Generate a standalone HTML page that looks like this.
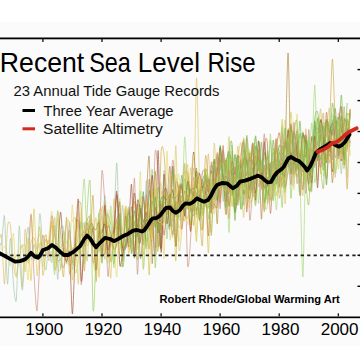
<!DOCTYPE html>
<html><head><meta charset="utf-8"><style>
html,body{margin:0;padding:0;background:#fff;width:360px;height:360px;overflow:hidden}
svg{display:block}
text{font-family:"Liberation Sans",sans-serif}
</style></head><body>
<svg width="360" height="360" viewBox="0 0 360 360">
<defs><filter id="b" x="-5%" y="-5%" width="110%" height="110%"><feGaussianBlur stdDeviation="0.6"/></filter></defs>
<rect width="360" height="360" fill="#fff"/><rect x="0" y="22" width="360" height="323.5" fill="#fbfbfb"/>
<g fill="none" stroke-width="0.8" stroke-linejoin="round" stroke-opacity="0.85" filter="url(#b)">
<path d="M-45.7,258.0C-45.4,257.1 -43.5,252.9 -42.8,250.6C-42.0,248.3 -40.6,239.2 -39.8,239.4C-39.1,239.6 -37.6,250.1 -36.9,252.2C-36.1,254.2 -34.6,253.7 -33.9,255.7C-33.2,257.6 -31.7,271.9 -31.0,267.9C-30.2,263.9 -28.7,224.4 -28.0,223.7C-27.3,222.9 -25.8,260.1 -25.0,262.1C-24.3,264.0 -22.8,238.3 -22.1,239.2C-21.3,240.2 -19.9,269.7 -19.1,269.9C-18.4,270.0 -16.9,239.8 -16.2,240.3C-15.4,240.9 -14.0,275.4 -13.2,274.2C-12.5,273.1 -11.0,232.9 -10.3,231.0C-9.5,229.1 -8.1,257.5 -7.3,258.9C-6.6,260.3 -5.1,244.0 -4.4,242.1C-3.6,240.2 -2.1,242.6 -1.4,243.6C-0.7,244.5 0.8,249.0 1.5,249.4C2.3,249.7 3.8,245.7 4.5,246.3C5.2,246.8 6.7,251.2 7.5,253.5C8.2,255.9 9.7,267.7 10.4,265.1C11.1,262.6 12.6,231.8 13.4,233.2C14.1,234.6 15.6,274.1 16.3,276.0C17.1,277.9 18.5,252.3 19.3,248.6C20.0,245.0 21.5,247.0 22.2,246.7C23.0,246.4 24.4,242.1 25.2,246.2C25.9,250.3 27.4,283.3 28.1,279.4C28.9,275.6 30.3,217.8 31.1,215.4C31.8,213.0 33.3,257.1 34.0,260.5C34.8,263.8 36.3,245.4 37.0,242.2C37.7,239.1 39.2,232.1 39.9,235.1C40.7,238.2 42.2,265.1 42.9,266.7C43.6,268.3 45.1,251.5 45.9,247.8C46.6,244.1 48.1,241.7 48.8,237.2C49.5,232.6 51.0,208.2 51.8,211.6C52.5,214.9 54.0,262.8 54.7,263.7C55.5,264.5 56.9,219.8 57.7,218.4C58.4,216.9 59.9,250.4 60.6,251.9C61.4,253.5 62.8,229.7 63.6,230.7C64.3,231.8 65.8,257.2 66.5,260.6C67.3,263.9 68.7,264.3 69.5,257.3C70.2,250.3 71.7,203.5 72.4,204.6C73.2,205.8 74.7,265.5 75.4,266.5C76.1,267.5 77.6,214.3 78.3,212.7C79.1,211.1 80.6,251.5 81.3,253.7C82.0,255.9 83.5,231.6 84.3,230.3C85.0,228.9 86.5,242.9 87.2,243.0C87.9,243.0 89.4,232.8 90.2,230.6C90.9,228.4 92.4,219.7 93.1,225.3C93.9,231.0 95.3,275.6 96.1,275.5C96.8,275.4 98.3,229.8 99.0,224.8C99.8,219.7 101.2,232.9 102.0,235.3C102.7,237.8 104.2,247.3 104.9,244.2C105.7,241.1 107.1,214.0 107.9,210.6C108.6,207.2 110.1,213.9 110.8,217.1C111.6,220.3 113.1,228.8 113.8,236.3C114.5,243.7 116.0,281.4 116.8,276.7C117.5,272.0 119.0,202.7 119.7,198.7C120.4,194.6 121.9,238.6 122.7,244.2C123.4,249.9 124.9,244.7 125.6,244.0C126.4,243.3 127.8,240.7 128.6,238.6C129.3,236.5 130.8,230.2 131.5,227.2C132.3,224.3 133.7,213.0 134.5,215.2C135.2,217.4 136.7,250.1 137.4,244.7C138.2,239.2 139.6,168.6 140.4,171.6C141.1,174.6 142.6,264.3 143.3,268.4C144.1,272.5 145.6,207.6 146.3,204.4C147.0,201.3 148.5,239.4 149.2,243.3C150.0,247.2 151.5,242.6 152.2,235.8C152.9,229.1 154.4,190.6 155.2,189.5C155.9,188.5 157.4,228.2 158.1,227.3C158.8,226.5 160.3,178.9 161.1,182.8C161.8,186.7 163.3,262.5 164.0,258.6C164.8,254.6 166.2,153.4 167.0,151.1C167.7,148.7 169.2,233.0 169.9,239.6C170.7,246.2 172.1,209.0 172.9,203.5C173.6,198.1 175.1,199.7 175.8,196.0C176.6,192.3 178.0,170.9 178.8,174.1C179.5,177.4 181.0,219.3 181.7,221.9C182.5,224.5 184.0,198.3 184.7,195.0C185.4,191.7 186.9,194.7 187.6,195.5C188.4,196.4 189.9,202.6 190.6,201.7C191.3,200.8 192.8,190.8 193.6,188.2C194.3,185.7 195.8,180.4 196.5,181.1C197.2,181.8 198.7,193.4 199.5,193.7C200.2,194.0 201.7,183.5 202.4,183.3C203.2,183.2 204.6,190.6 205.4,192.3C206.1,194.0 207.6,196.6 208.3,197.1C209.1,197.5 210.5,197.0 211.3,196.0C212.0,195.0 213.5,194.4 214.2,189.2C215.0,184.0 216.4,154.0 217.2,154.0C217.9,154.0 219.4,187.8 220.1,189.2C220.9,190.6 222.4,167.0 223.1,165.2C223.8,163.4 225.3,171.0 226.0,174.7C226.8,178.4 228.3,195.6 229.0,194.9C229.7,194.2 231.2,168.6 232.0,169.0C232.7,169.5 234.2,196.6 234.9,198.5C235.6,200.4 237.1,184.4 237.9,184.2C238.6,184.0 240.1,202.9 240.8,197.1C241.6,191.2 243.0,135.9 243.8,137.3C244.5,138.7 246.0,204.2 246.7,208.4C247.5,212.7 248.9,175.3 249.7,171.4C250.4,167.5 251.9,180.4 252.6,177.4C253.4,174.4 254.8,147.2 255.6,147.4C256.3,147.6 257.8,174.7 258.5,178.9C259.3,183.0 260.8,182.5 261.5,180.7C262.2,178.9 263.7,164.1 264.4,164.4C265.2,164.7 266.7,182.2 267.4,183.2C268.1,184.3 269.6,171.1 270.4,172.8C271.1,174.6 272.6,198.2 273.3,196.9C274.1,195.7 275.5,169.3 276.3,163.0C277.0,156.8 278.5,148.9 279.2,146.8C280.0,144.6 281.4,149.3 282.2,145.9C282.9,142.6 284.4,117.3 285.1,120.1C285.9,123.0 287.3,163.6 288.1,168.9C288.8,174.2 290.3,162.3 291.0,162.5C291.8,162.6 293.3,170.5 294.0,170.3C294.7,170.0 296.2,164.0 296.9,160.3C297.7,156.7 299.2,141.7 299.9,141.2C300.6,140.8 302.1,151.8 302.9,156.7C303.6,161.6 305.1,178.4 305.8,180.6C306.5,182.8 308.0,179.7 308.8,174.4C309.5,169.1 311.0,139.7 311.7,138.1C312.5,136.6 313.9,162.2 314.7,161.8C315.4,161.5 316.9,137.5 317.6,135.4C318.4,133.3 319.8,142.7 320.6,145.2C321.3,147.7 322.8,157.0 323.5,155.4C324.3,153.8 325.7,136.5 326.5,132.1C327.2,127.6 328.7,116.2 329.4,119.7C330.2,123.2 331.7,159.1 332.4,160.0C333.1,160.8 334.6,126.8 335.3,126.4C336.1,126.1 337.6,158.3 338.3,157.3C339.0,156.2 340.5,116.7 341.3,117.7C342.0,118.7 343.5,162.5 344.2,165.2C344.9,167.9 346.4,145.9 347.2,139.1C347.9,132.3 349.7,114.5 350.1,111.0" stroke="#e8d872"/>
<path d="M-22.1,238.8C-21.7,239.2 -19.9,241.8 -19.1,241.7C-18.4,241.6 -16.9,235.1 -16.2,238.1C-15.4,241.1 -14.0,263.3 -13.2,265.8C-12.5,268.3 -11.0,261.8 -10.3,258.0C-9.5,254.1 -8.1,236.6 -7.3,235.1C-6.6,233.7 -5.1,245.6 -4.4,246.6C-3.6,247.6 -2.1,244.5 -1.4,243.1C-0.7,241.7 0.8,230.5 1.5,235.7C2.3,240.8 3.8,285.3 4.5,284.1C5.2,283.0 6.7,234.0 7.5,226.7C8.2,219.4 9.7,221.1 10.4,225.7C11.1,230.4 12.6,257.1 13.4,263.6C14.1,270.0 15.6,277.6 16.3,277.1C17.1,276.6 18.5,258.3 19.3,259.5C20.0,260.8 21.5,290.8 22.2,287.0C23.0,283.2 24.4,232.3 25.2,229.4C25.9,226.4 27.4,261.8 28.1,263.4C28.9,265.0 30.3,245.2 31.1,242.1C31.8,238.9 33.3,237.2 34.0,238.1C34.8,239.1 36.3,249.0 37.0,249.6C37.7,250.2 39.2,243.7 39.9,243.3C40.7,242.9 42.2,247.5 42.9,246.5C43.6,245.4 45.1,233.2 45.9,234.9C46.6,236.7 48.1,258.5 48.8,260.6C49.5,262.6 51.0,252.1 51.8,251.5C52.5,250.9 54.0,260.8 54.7,255.7C55.5,250.6 56.9,213.7 57.7,210.9C58.4,208.1 59.9,229.0 60.6,233.4C61.4,237.7 62.8,247.3 63.6,245.9C64.3,244.4 65.8,224.7 66.5,221.9C67.3,219.2 68.7,218.9 69.5,224.1C70.2,229.3 71.7,259.6 72.4,263.8C73.2,268.0 74.7,261.4 75.4,257.7C76.1,254.1 77.6,237.4 78.3,234.6C79.1,231.9 80.6,235.9 81.3,235.6C82.0,235.3 83.5,229.1 84.3,232.3C85.0,235.5 86.5,263.2 87.2,261.1C87.9,258.9 89.4,218.8 90.2,215.0C90.9,211.2 92.4,224.0 93.1,230.8C93.9,237.5 95.3,271.0 96.1,268.9C96.8,266.9 98.3,221.3 99.0,214.2C99.8,207.1 101.2,206.7 102.0,212.3C102.7,218.0 104.2,259.3 104.9,259.4C105.7,259.5 107.1,212.8 107.9,213.1C108.6,213.5 110.1,259.0 110.8,262.0C111.6,265.0 113.1,242.4 113.8,237.3C114.5,232.3 116.0,222.4 116.8,221.5C117.5,220.5 119.0,226.7 119.7,229.8C120.4,232.9 121.9,249.0 122.7,246.6C123.4,244.2 124.9,210.4 125.6,210.5C126.4,210.6 127.8,243.4 128.6,247.5C129.3,251.6 130.8,246.2 131.5,243.2C132.3,240.2 133.7,223.5 134.5,223.4C135.2,223.4 136.7,244.3 137.4,242.8C138.2,241.4 139.6,213.2 140.4,211.8C141.1,210.3 142.6,232.0 143.3,231.1C144.1,230.2 145.6,207.4 146.3,204.7C147.0,202.1 148.5,205.9 149.2,209.8C150.0,213.7 151.5,235.6 152.2,235.8C152.9,236.0 154.4,216.2 155.2,211.3C155.9,206.4 157.4,194.8 158.1,196.4C158.8,197.9 160.3,223.9 161.1,224.0C161.8,224.0 163.3,199.3 164.0,196.7C164.8,194.0 166.2,201.1 167.0,202.6C167.7,204.1 169.2,212.8 169.9,208.7C170.7,204.7 172.1,172.7 172.9,170.5C173.6,168.3 175.1,185.0 175.8,191.1C176.6,197.3 178.0,216.6 178.8,219.4C179.5,222.2 181.0,215.6 181.7,213.5C182.5,211.4 184.0,207.0 184.7,202.5C185.4,198.0 186.9,176.6 187.6,177.4C188.4,178.2 189.9,210.3 190.6,209.1C191.3,207.9 192.8,167.1 193.6,168.1C194.3,169.1 195.8,213.2 196.5,217.2C197.2,221.2 198.7,205.0 199.5,200.3C200.2,195.6 201.7,178.6 202.4,179.4C203.2,180.3 204.6,209.9 205.4,206.7C206.1,203.5 207.6,154.8 208.3,154.0C209.1,153.1 210.5,197.9 211.3,200.0C212.0,202.1 213.5,172.4 214.2,170.5C215.0,168.6 216.4,183.6 217.2,184.6C217.9,185.5 219.4,177.9 220.1,177.8C220.9,177.6 222.4,185.5 223.1,183.5C223.8,181.5 225.3,160.8 226.0,161.9C226.8,163.0 228.3,191.4 229.0,192.3C229.7,193.3 231.2,170.3 232.0,169.5C232.7,168.8 234.2,189.4 234.9,186.5C235.6,183.6 237.1,146.3 237.9,146.3C238.6,146.4 240.1,183.6 240.8,186.9C241.6,190.3 243.0,174.0 243.8,173.4C244.5,172.8 246.0,184.2 246.7,182.0C247.5,179.7 248.9,159.2 249.7,155.7C250.4,152.3 251.9,148.4 252.6,154.5C253.4,160.5 254.8,204.4 255.6,204.0C256.3,203.6 257.8,155.8 258.5,151.3C259.3,146.8 260.8,165.5 261.5,168.0C262.2,170.4 263.7,167.3 264.4,171.1C265.2,174.9 266.7,198.5 267.4,198.4C268.1,198.2 269.6,171.7 270.4,170.0C271.1,168.2 272.6,187.2 273.3,184.5C274.1,181.7 275.5,149.0 276.3,148.2C277.0,147.5 278.5,176.4 279.2,178.2C280.0,180.0 281.4,165.3 282.2,162.6C282.9,159.9 284.4,156.4 285.1,156.2C285.9,156.0 287.3,165.4 288.1,161.3C288.8,157.2 290.3,122.0 291.0,123.4C291.8,124.8 293.3,170.6 294.0,172.8C294.7,175.0 296.2,141.5 296.9,141.1C297.7,140.6 299.2,162.8 299.9,169.5C300.6,176.3 302.1,200.2 302.9,195.1C303.6,190.0 305.1,131.8 305.8,129.0C306.5,126.1 308.0,170.2 308.8,172.5C309.5,174.8 311.0,150.2 311.7,147.5C312.5,144.9 313.9,150.6 314.7,151.1C315.4,151.6 316.9,156.7 317.6,151.5C318.4,146.2 319.8,107.1 320.6,108.9C321.3,110.6 322.8,160.7 323.5,165.4C324.3,170.1 325.7,150.6 326.5,146.4C327.2,142.3 328.7,134.1 329.4,132.5C330.2,130.9 331.7,128.2 332.4,133.8C333.1,139.4 334.6,179.8 335.3,177.4C336.1,174.9 337.6,120.4 338.3,114.3C339.0,108.2 340.5,125.3 341.3,128.8C342.0,132.4 343.5,141.4 344.2,142.9C344.9,144.5 346.4,143.5 347.2,141.4C347.9,139.3 349.7,128.1 350.1,126.2" stroke="#dcbc66"/>
<path d="M-7.3,236.1C-6.9,241.3 -5.1,277.1 -4.4,277.9C-3.6,278.7 -2.1,246.7 -1.4,242.5C-0.7,238.4 0.8,248.3 1.5,244.9C2.3,241.6 3.8,211.1 4.5,216.0C5.2,220.9 6.7,281.3 7.5,284.1C8.2,286.9 9.7,238.6 10.4,238.5C11.1,238.3 12.6,275.3 13.4,283.0C14.1,290.7 15.6,307.1 16.3,300.0C17.1,292.9 18.5,227.1 19.3,225.9C20.0,224.6 21.5,286.6 22.2,290.0C23.0,293.4 24.4,260.6 25.2,252.7C25.9,244.9 27.4,226.2 28.1,227.1C28.9,228.0 30.3,257.8 31.1,260.0C31.8,262.1 33.3,245.2 34.0,244.5C34.8,243.8 36.3,258.2 37.0,254.3C37.7,250.4 39.2,214.0 39.9,213.7C40.7,213.4 42.2,244.9 42.9,251.9C43.6,259.0 45.1,270.9 45.9,270.0C46.6,269.2 48.1,245.9 48.8,245.0C49.5,244.0 51.0,264.9 51.8,262.5C52.5,260.0 54.0,223.3 54.7,225.4C55.5,227.5 56.9,278.8 57.7,279.5C58.4,280.1 59.9,236.9 60.6,230.6C61.4,224.3 62.8,224.7 63.6,228.8C64.3,233.0 65.8,265.0 66.5,264.2C67.3,263.3 68.7,221.7 69.5,222.4C70.2,223.0 71.7,267.9 72.4,269.5C73.2,271.1 74.7,241.0 75.4,235.5C76.1,230.0 77.6,226.4 78.3,225.5C79.1,224.6 80.6,228.8 81.3,228.4C82.0,228.0 83.5,222.1 84.3,222.4C85.0,222.6 86.5,231.1 87.2,230.6C87.9,230.2 89.4,218.7 90.2,218.9C90.9,219.2 92.4,228.3 93.1,232.5C93.9,236.8 95.3,250.6 96.1,252.9C96.8,255.2 98.3,252.8 99.0,250.8C99.8,248.8 101.2,243.6 102.0,236.7C102.7,229.7 104.2,194.2 104.9,195.1C105.7,196.0 107.1,237.7 107.9,243.9C108.6,250.0 110.1,246.6 110.8,244.5C111.6,242.4 113.1,237.1 113.8,226.9C114.5,216.8 116.0,161.6 116.8,163.0C117.5,164.4 119.0,232.7 119.7,238.0C120.4,243.3 121.9,203.9 122.7,205.2C123.4,206.5 124.9,247.9 125.6,248.1C126.4,248.4 127.8,209.5 128.6,206.9C129.3,204.4 130.8,225.7 131.5,227.9C132.3,230.1 133.7,226.0 134.5,224.4C135.2,222.8 136.7,216.1 137.4,214.9C138.2,213.7 139.6,211.6 140.4,214.8C141.1,218.0 142.6,244.8 143.3,240.6C144.1,236.3 145.6,183.3 146.3,180.6C147.0,178.0 148.5,215.5 149.2,219.3C150.0,223.0 151.5,211.5 152.2,210.5C152.9,209.4 154.4,208.8 155.2,210.8C155.9,212.8 157.4,221.4 158.1,226.1C158.8,230.8 160.3,255.4 161.1,248.4C161.8,241.4 163.3,171.6 164.0,170.4C164.8,169.2 166.2,238.1 167.0,238.9C167.7,239.7 169.2,178.3 169.9,176.7C170.7,175.2 172.1,226.2 172.9,226.6C173.6,227.0 175.1,184.4 175.8,179.7C176.6,175.0 178.0,184.4 178.8,188.8C179.5,193.3 181.0,211.6 181.7,215.4C182.5,219.3 184.0,221.6 184.7,219.7C185.4,217.7 186.9,202.7 187.6,199.8C188.4,196.9 189.9,197.7 190.6,196.2C191.3,194.7 192.8,190.0 193.6,187.7C194.3,185.5 195.8,178.5 196.5,178.1C197.2,177.7 198.7,183.2 199.5,184.8C200.2,186.5 201.7,191.6 202.4,191.3C203.2,190.9 204.6,183.4 205.4,181.8C206.1,180.2 207.6,177.0 208.3,178.3C209.1,179.6 210.5,192.6 211.3,192.1C212.0,191.6 213.5,176.8 214.2,174.3C215.0,171.8 216.4,173.7 217.2,172.0C217.9,170.3 219.4,157.0 220.1,160.6C220.9,164.3 222.4,198.5 223.1,201.0C223.8,203.4 225.3,184.0 226.0,180.2C226.8,176.4 228.3,169.7 229.0,170.7C229.7,171.7 231.2,186.6 232.0,188.3C232.7,190.1 234.2,184.4 234.9,184.6C235.6,184.8 237.1,192.6 237.9,190.2C238.6,187.9 240.1,171.3 240.8,165.6C241.6,160.0 243.0,142.6 243.8,145.1C244.5,147.6 246.0,179.1 246.7,185.6C247.5,192.0 248.9,201.9 249.7,196.6C250.4,191.3 251.9,144.6 252.6,143.0C253.4,141.4 254.8,182.3 255.6,183.9C256.3,185.6 257.8,157.9 258.5,156.4C259.3,154.9 260.8,165.8 261.5,171.8C262.2,177.9 263.7,207.4 264.4,204.8C265.2,202.1 266.7,154.2 267.4,150.7C268.1,147.1 269.6,171.4 270.4,176.3C271.1,181.3 272.6,193.0 273.3,190.0C274.1,187.0 275.5,156.5 276.3,152.1C277.0,147.7 278.5,155.3 279.2,154.8C280.0,154.3 281.4,147.4 282.2,147.9C282.9,148.3 284.4,156.6 285.1,158.3C285.9,160.0 287.3,164.9 288.1,161.6C288.8,158.3 290.3,129.2 291.0,131.9C291.8,134.7 293.3,183.7 294.0,183.3C294.7,183.0 296.2,130.4 296.9,129.0C297.7,127.6 299.2,169.9 299.9,172.3C300.6,174.7 302.1,152.0 302.9,148.0C303.6,143.9 305.1,137.5 305.8,139.8C306.5,142.0 308.0,164.2 308.8,166.1C309.5,168.0 311.0,156.3 311.7,155.1C312.5,154.0 313.9,156.5 314.7,156.8C315.4,157.1 316.9,161.4 317.6,157.3C318.4,153.1 319.8,125.9 320.6,123.9C321.3,121.8 322.8,136.9 323.5,140.8C324.3,144.8 325.7,157.2 326.5,155.3C327.2,153.3 328.7,124.8 329.4,125.0C330.2,125.2 331.7,156.1 332.4,156.8C333.1,157.5 334.6,134.1 335.3,130.3C336.1,126.4 337.6,120.3 338.3,125.8C339.0,131.2 340.5,174.4 341.3,173.8C342.0,173.2 343.5,126.3 344.2,121.3C344.9,116.2 346.4,134.7 347.2,133.3C347.9,131.8 349.7,112.6 350.1,109.6" stroke="#a0c8a8"/>
<path d="M13.4,260.4C13.7,259.8 15.6,255.4 16.3,255.3C17.1,255.1 18.5,260.6 19.3,259.3C20.0,258.0 21.5,243.1 22.2,244.7C23.0,246.2 24.4,272.7 25.2,271.8C25.9,270.9 27.4,236.5 28.1,237.6C28.9,238.7 30.3,284.1 31.1,280.5C31.8,276.9 33.3,209.5 34.0,208.9C34.8,208.3 36.3,271.2 37.0,275.5C37.7,279.9 39.2,247.6 39.9,243.8C40.7,240.0 42.2,246.2 42.9,245.1C43.6,244.0 45.1,233.5 45.9,234.8C46.6,236.1 48.1,256.4 48.8,255.2C49.5,254.0 51.0,227.6 51.8,225.3C52.5,223.1 54.0,234.8 54.7,237.3C55.5,239.8 56.9,244.0 57.7,245.3C58.4,246.6 59.9,248.2 60.6,247.7C61.4,247.2 62.8,239.7 63.6,241.4C64.3,243.1 65.8,262.0 66.5,261.2C67.3,260.5 68.7,233.3 69.5,235.6C70.2,238.0 71.7,282.1 72.4,280.0C73.2,278.0 74.7,224.9 75.4,219.2C76.1,213.4 77.6,231.5 78.3,233.8C79.1,236.1 80.6,238.5 81.3,237.4C82.0,236.2 83.5,223.4 84.3,224.5C85.0,225.5 86.5,244.1 87.2,245.9C87.9,247.7 89.4,237.9 90.2,238.6C90.9,239.2 92.4,249.2 93.1,251.0C93.9,252.8 95.3,254.9 96.1,252.7C96.8,250.4 98.3,237.3 99.0,232.8C99.8,228.3 101.2,214.6 102.0,216.7C102.7,218.9 104.2,249.6 104.9,250.2C105.7,250.7 107.1,222.2 107.9,220.9C108.6,219.6 110.1,236.0 110.8,239.9C111.6,243.9 113.1,252.1 113.8,252.7C114.5,253.2 116.0,247.5 116.8,244.2C117.5,241.0 119.0,225.1 119.7,226.6C120.4,228.1 121.9,258.8 122.7,256.3C123.4,253.8 124.9,209.0 125.6,206.4C126.4,203.9 127.8,234.6 128.6,235.8C129.3,237.1 130.8,217.4 131.5,216.7C132.3,216.1 133.7,230.4 134.5,230.7C135.2,231.0 136.7,221.7 137.4,219.4C138.2,217.2 139.6,209.6 140.4,212.8C141.1,216.0 142.6,242.9 143.3,245.1C144.1,247.4 145.6,232.6 146.3,230.7C147.0,228.7 148.5,234.5 149.2,229.7C150.0,224.9 151.5,193.2 152.2,192.1C152.9,191.1 154.4,218.4 155.2,221.2C155.9,224.0 157.4,215.9 158.1,214.2C158.8,212.5 160.3,207.9 161.1,207.5C161.8,207.2 163.3,210.9 164.0,211.7C164.8,212.4 166.2,215.2 167.0,213.5C167.7,211.9 169.2,197.8 169.9,198.3C170.7,198.9 172.1,217.4 172.9,217.9C173.6,218.5 175.1,203.9 175.8,203.1C176.6,202.4 178.0,211.0 178.8,212.2C179.5,213.5 181.0,212.2 181.7,213.1C182.5,214.1 184.0,225.1 184.7,219.9C185.4,214.7 186.9,170.1 187.6,171.3C188.4,172.5 189.9,228.0 190.6,229.6C191.3,231.3 192.8,189.5 193.6,184.6C194.3,179.7 195.8,190.6 196.5,190.3C197.2,190.0 198.7,179.8 199.5,182.2C200.2,184.5 201.7,208.3 202.4,209.2C203.2,210.0 204.6,190.4 205.4,189.3C206.1,188.2 207.6,198.9 208.3,200.2C209.1,201.5 210.5,201.3 211.3,200.0C212.0,198.6 213.5,194.9 214.2,189.2C215.0,183.5 216.4,152.5 217.2,154.3C217.9,156.0 219.4,204.3 220.1,203.3C220.9,202.2 222.4,145.8 223.1,145.7C223.8,145.6 225.3,199.2 226.0,202.4C226.8,205.6 228.3,175.0 229.0,171.4C229.7,167.9 231.2,169.8 232.0,174.2C232.7,178.5 234.2,207.7 234.9,206.1C235.6,204.5 237.1,169.2 237.9,161.2C238.6,153.3 240.1,141.9 240.8,142.7C241.6,143.5 243.0,165.4 243.8,167.4C244.5,169.4 246.0,154.5 246.7,158.5C247.5,162.6 248.9,195.1 249.7,199.9C250.4,204.6 251.9,202.5 252.6,196.6C253.4,190.8 254.8,157.8 255.6,153.2C256.3,148.6 257.8,157.7 258.5,159.7C259.3,161.8 260.8,163.4 261.5,169.7C262.2,175.9 263.7,210.0 264.4,209.7C265.2,209.4 266.7,171.3 267.4,167.4C268.1,163.5 269.6,179.3 270.4,178.2C271.1,177.1 272.6,159.5 273.3,158.9C274.1,158.4 275.5,172.2 276.3,173.8C277.0,175.4 278.5,171.8 279.2,171.5C280.0,171.2 281.4,170.5 282.2,171.1C282.9,171.8 284.4,179.6 285.1,176.8C285.9,173.9 287.3,156.7 288.1,148.6C288.8,140.6 290.3,111.3 291.0,112.1C291.8,113.0 293.3,150.1 294.0,155.5C294.7,160.8 296.2,153.1 296.9,154.7C297.7,156.3 299.2,167.1 299.9,168.1C300.6,169.1 302.1,165.0 302.9,162.8C303.6,160.6 305.1,150.7 305.8,150.9C306.5,151.0 308.0,162.5 308.8,164.0C309.5,165.5 311.0,163.4 311.7,162.8C312.5,162.3 313.9,165.3 314.7,159.6C315.4,153.9 316.9,115.5 317.6,117.3C318.4,119.1 319.8,171.4 320.6,173.9C321.3,176.3 322.8,139.1 323.5,136.9C324.3,134.7 325.7,156.4 326.5,156.2C327.2,156.1 328.7,136.1 329.4,135.7C330.2,135.3 331.7,155.4 332.4,153.1C333.1,150.8 334.6,115.5 335.3,117.5C336.1,119.6 337.6,168.3 338.3,169.1C339.0,170.0 340.5,128.8 341.3,124.2C342.0,119.5 343.5,130.1 344.2,132.1C344.9,134.0 346.4,142.7 347.2,140.0C347.9,137.2 349.7,113.8 350.1,110.1" stroke="#e0cc50"/>
<path d="M28.1,260.6C28.5,254.7 30.3,212.1 31.1,213.9C31.8,215.6 33.3,262.4 34.0,274.6C34.8,286.7 36.3,312.8 37.0,311.0C37.7,309.2 39.2,269.5 39.9,260.0C40.7,250.5 42.2,235.9 42.9,235.0C43.6,234.1 45.1,250.3 45.9,252.7C46.6,255.2 48.1,259.2 48.8,254.6C49.5,250.0 51.0,218.2 51.8,215.8C52.5,213.3 54.0,229.4 54.7,235.0C55.5,240.5 56.9,257.4 57.7,260.4C58.4,263.5 59.9,258.1 60.6,259.1C61.4,260.0 62.8,268.7 63.6,267.8C64.3,267.0 65.8,256.9 66.5,252.3C67.3,247.6 68.7,229.1 69.5,230.4C70.2,231.8 71.7,262.6 72.4,263.1C73.2,263.7 74.7,240.0 75.4,234.8C76.1,229.5 77.6,214.7 78.3,221.0C79.1,227.2 80.6,283.7 81.3,284.8C82.0,285.8 83.5,237.2 84.3,229.1C85.0,221.0 86.5,221.5 87.2,220.1C87.9,218.8 89.4,212.9 90.2,218.3C90.9,223.6 92.4,259.4 93.1,262.8C93.9,266.2 95.3,247.7 96.1,245.5C96.8,243.3 98.3,254.8 99.0,245.4C99.8,236.1 101.2,175.9 102.0,171.0C102.7,166.1 104.2,193.1 104.9,206.3C105.7,219.5 107.1,272.1 107.9,276.3C108.6,280.6 110.1,246.6 110.8,240.6C111.6,234.5 113.1,230.5 113.8,227.8C114.5,225.1 116.0,220.5 116.8,219.0C117.5,217.5 119.0,211.7 119.7,215.8C120.4,220.0 121.9,252.4 122.7,252.2C123.4,252.0 124.9,215.3 125.6,214.2C126.4,213.2 127.8,240.4 128.6,243.8C129.3,247.2 130.8,249.4 131.5,241.2C132.3,233.0 133.7,174.1 134.5,178.2C135.2,182.3 136.7,270.3 137.4,274.2C138.2,278.0 139.6,212.9 140.4,209.1C141.1,205.4 142.6,245.9 143.3,244.2C144.1,242.4 145.6,197.4 146.3,195.3C147.0,193.2 148.5,222.1 149.2,227.5C150.0,232.8 151.5,247.4 152.2,238.0C152.9,228.6 154.4,160.1 155.2,152.0C155.9,143.9 157.4,163.4 158.1,173.2C158.8,183.0 160.3,226.0 161.1,230.3C161.8,234.5 163.3,209.1 164.0,207.0C164.8,205.0 166.2,215.7 167.0,213.6C167.7,211.6 169.2,197.5 169.9,190.8C170.7,184.1 172.1,160.4 172.9,160.0C173.6,159.6 175.1,183.4 175.8,187.7C176.6,192.0 178.0,193.9 178.8,194.4C179.5,194.9 181.0,195.0 181.7,191.5C182.5,187.9 184.0,156.9 184.7,166.0C185.4,175.2 186.9,255.9 187.6,265.0C188.4,274.1 189.9,249.9 190.6,238.9C191.3,228.0 192.8,180.4 193.6,177.4C194.3,174.4 195.8,213.0 196.5,214.8C197.2,216.5 198.7,194.7 199.5,191.2C200.2,187.7 201.7,186.2 202.4,187.0C203.2,187.8 204.6,198.6 205.4,197.7C206.1,196.8 207.6,181.5 208.3,179.9C209.1,178.2 210.5,182.1 211.3,184.5C212.0,187.0 213.5,201.5 214.2,199.5C215.0,197.6 216.4,171.7 217.2,169.2C217.9,166.6 219.4,177.9 220.1,179.1C220.9,180.2 222.4,179.6 223.1,178.4C223.8,177.1 225.3,165.9 226.0,169.3C226.8,172.8 228.3,204.4 229.0,206.2C229.7,208.0 231.2,184.5 232.0,183.9C232.7,183.2 234.2,204.2 234.9,200.9C235.6,197.7 237.1,162.5 237.9,157.7C238.6,153.0 240.1,157.1 240.8,163.1C241.6,169.0 243.0,208.2 243.8,205.1C244.5,202.1 246.0,136.7 246.7,138.4C247.5,140.2 248.9,213.2 249.7,219.5C250.4,225.8 251.9,197.0 252.6,189.0C253.4,181.1 254.8,156.1 255.6,155.7C256.3,155.4 257.8,183.8 258.5,186.1C259.3,188.3 260.8,180.2 261.5,173.7C262.2,167.2 263.7,130.4 264.4,134.1C265.2,137.8 266.7,198.4 267.4,203.4C268.1,208.3 269.6,178.7 270.4,173.7C271.1,168.6 272.6,163.6 273.3,163.1C274.1,162.6 275.5,171.0 276.3,169.8C277.0,168.7 278.5,157.1 279.2,154.1C280.0,151.1 281.4,143.2 282.2,146.1C282.9,149.0 284.4,179.1 285.1,177.5C285.9,175.9 287.3,134.8 288.1,133.3C288.8,131.8 290.3,164.2 291.0,165.4C291.8,166.6 293.3,144.9 294.0,143.0C294.7,141.1 296.2,145.5 296.9,150.4C297.7,155.4 299.2,180.9 299.9,182.6C300.6,184.3 302.1,162.6 302.9,163.9C303.6,165.2 305.1,197.2 305.8,192.9C306.5,188.6 308.0,131.6 308.8,129.6C309.5,127.7 311.0,177.3 311.7,177.5C312.5,177.7 313.9,137.3 314.7,131.2C315.4,125.2 316.9,124.5 317.6,129.0C318.4,133.5 319.8,165.8 320.6,167.2C321.3,168.7 322.8,146.5 323.5,140.6C324.3,134.8 325.7,118.3 326.5,120.3C327.2,122.3 328.7,156.6 329.4,156.5C330.2,156.5 331.7,119.7 332.4,119.8C333.1,120.0 334.6,154.5 335.3,157.5C336.1,160.5 337.6,143.3 338.3,143.6C339.0,144.0 340.5,165.0 341.3,160.4C342.0,155.8 343.5,104.6 344.2,106.8C344.9,108.9 346.8,168.8 347.2,177.6" stroke="#cc9080"/>
<path d="M37.0,258.9C37.4,254.9 39.2,224.7 39.9,226.8C40.7,228.8 42.2,271.9 42.9,275.1C43.6,278.3 45.1,256.9 45.9,252.6C46.6,248.2 48.1,241.1 48.8,240.4C49.5,239.8 51.0,250.2 51.8,247.4C52.5,244.5 54.0,215.1 54.7,217.5C55.5,219.9 56.9,260.1 57.7,266.6C58.4,273.0 59.9,271.4 60.6,269.0C61.4,266.7 62.8,249.6 63.6,247.8C64.3,245.9 65.8,252.3 66.5,254.5C67.3,256.6 68.7,264.2 69.5,265.0C70.2,265.9 71.7,263.8 72.4,261.1C73.2,258.3 74.7,244.1 75.4,243.0C76.1,242.0 77.6,254.0 78.3,253.0C79.1,251.9 80.6,237.5 81.3,234.9C82.0,232.3 83.5,232.2 84.3,232.3C85.0,232.5 86.5,237.7 87.2,236.1C87.9,234.6 89.4,216.6 90.2,219.6C90.9,222.5 92.4,253.2 93.1,259.6C93.9,266.0 95.3,274.7 96.1,270.7C96.8,266.8 98.3,231.8 99.0,227.8C99.8,223.9 101.2,239.9 102.0,239.1C102.7,238.2 104.2,221.9 104.9,221.3C105.7,220.7 107.1,229.2 107.9,234.2C108.6,239.2 110.1,260.3 110.8,261.5C111.6,262.6 113.1,248.2 113.8,243.3C114.5,238.4 116.0,220.3 116.8,222.5C117.5,224.8 119.0,256.0 119.7,261.0C120.4,266.1 121.9,269.6 122.7,263.1C123.4,256.5 124.9,209.9 125.6,208.6C126.4,207.4 127.8,250.4 128.6,253.2C129.3,255.9 130.8,234.4 131.5,230.4C132.3,226.4 133.7,218.8 134.5,221.1C135.2,223.5 136.7,250.6 137.4,249.2C138.2,247.8 139.6,209.5 140.4,210.2C141.1,210.8 142.6,255.6 143.3,254.4C144.1,253.2 145.6,197.9 146.3,200.5C147.0,203.1 148.5,276.4 149.2,275.0C150.0,273.6 151.5,195.2 152.2,189.2C152.9,183.2 154.4,224.4 155.2,227.3C155.9,230.1 157.4,211.6 158.1,211.8C158.8,212.1 160.3,228.8 161.1,229.2C161.8,229.6 163.3,218.1 164.0,215.1C164.8,212.1 166.2,207.9 167.0,205.2C167.7,202.6 169.2,195.5 169.9,193.9C170.7,192.3 172.1,184.1 172.9,192.4C173.6,200.8 175.1,261.8 175.8,260.9C176.6,260.0 178.0,191.7 178.8,184.9C179.5,178.2 181.0,206.1 181.7,206.8C182.5,207.4 184.0,195.5 184.7,190.3C185.4,185.0 186.9,160.5 187.6,164.8C188.4,169.0 189.9,220.0 190.6,224.6C191.3,229.3 192.8,199.7 193.6,201.8C194.3,203.9 195.8,244.2 196.5,241.4C197.2,238.6 198.7,184.5 199.5,179.7C200.2,174.9 201.7,203.5 202.4,202.9C203.2,202.4 204.6,169.0 205.4,175.3C206.1,181.5 207.6,252.0 208.3,253.0C209.1,254.0 210.5,191.5 211.3,182.9C212.0,174.4 213.5,182.4 214.2,184.5C215.0,186.7 216.4,200.0 217.2,200.1C217.9,200.1 219.4,188.6 220.1,184.8C220.9,181.1 222.4,171.9 223.1,170.1C223.8,168.3 225.3,171.5 226.0,170.4C226.8,169.3 228.3,156.6 229.0,161.1C229.7,165.6 231.2,205.4 232.0,206.6C232.7,207.8 234.2,177.2 234.9,170.8C235.6,164.4 237.1,153.3 237.9,155.3C238.6,157.4 240.1,182.5 240.8,187.3C241.6,192.1 243.0,196.7 243.8,193.7C244.5,190.7 246.0,166.0 246.7,163.1C247.5,160.1 248.9,170.4 249.7,170.4C250.4,170.5 251.9,165.1 252.6,163.6C253.4,162.1 254.8,158.4 255.6,158.6C256.3,158.8 257.8,163.2 258.5,165.1C259.3,167.0 260.8,171.9 261.5,173.9C262.2,176.0 263.7,179.1 264.4,181.4C265.2,183.8 266.7,190.4 267.4,192.8C268.1,195.1 269.6,205.8 270.4,200.2C271.1,194.6 272.6,148.6 273.3,148.0C274.1,147.4 275.5,193.3 276.3,195.5C277.0,197.8 278.5,174.5 279.2,166.0C280.0,157.6 281.4,124.7 282.2,128.0C282.9,131.3 284.4,192.3 285.1,192.4C285.9,192.6 287.3,135.1 288.1,129.2C288.8,123.3 290.3,142.5 291.0,145.4C291.8,148.4 293.3,150.9 294.0,152.9C294.7,154.9 296.2,161.6 296.9,161.2C297.7,160.7 299.2,149.0 299.9,149.2C300.6,149.5 302.1,162.4 302.9,163.0C303.6,163.6 305.1,153.4 305.8,154.2C306.5,155.0 308.0,169.2 308.8,169.4C309.5,169.7 311.0,157.5 311.7,156.2C312.5,155.0 313.9,159.6 314.7,159.3C315.4,159.1 316.9,154.3 317.6,154.4C318.4,154.5 319.8,164.2 320.6,160.3C321.3,156.3 322.8,126.2 323.5,122.9C324.3,119.7 325.7,132.2 326.5,134.6C327.2,137.1 328.7,141.7 329.4,142.6C330.2,143.5 331.7,141.8 332.4,141.5C333.1,141.2 334.6,139.3 335.3,140.1C336.1,140.9 337.6,149.6 338.3,147.7C339.0,145.8 340.5,124.1 341.3,124.9C342.0,125.7 343.5,154.9 344.2,154.1C344.9,153.3 346.4,118.4 347.2,118.6C347.9,118.8 349.7,151.2 350.1,155.9" stroke="#d4c044"/>
<path d="M42.9,252.6C43.3,250.9 45.1,240.3 45.9,239.2C46.6,238.0 48.1,245.9 48.8,243.7C49.5,241.5 51.0,218.2 51.8,221.4C52.5,224.7 54.0,265.3 54.7,269.6C55.5,273.9 56.9,258.5 57.7,256.1C58.4,253.7 59.9,247.9 60.6,250.5C61.4,253.1 62.8,280.7 63.6,276.6C64.3,272.4 65.8,217.5 66.5,217.1C67.3,216.8 68.7,270.0 69.5,273.9C70.2,277.8 71.7,251.9 72.4,248.6C73.2,245.3 74.7,253.1 75.4,247.6C76.1,242.1 77.6,209.6 78.3,204.7C79.1,199.8 80.6,200.2 81.3,208.5C82.0,216.8 83.5,268.3 84.3,270.9C85.0,273.5 86.5,233.3 87.2,229.0C87.9,224.7 89.4,240.7 90.2,236.5C90.9,232.3 92.4,189.9 93.1,195.6C93.9,201.2 95.3,278.5 96.1,281.5C96.8,284.4 98.3,221.5 99.0,219.1C99.8,216.7 101.2,264.4 102.0,262.3C102.7,260.2 104.2,203.3 104.9,202.5C105.7,201.7 107.1,251.3 107.9,256.0C108.6,260.7 110.1,243.1 110.8,240.2C111.6,237.4 113.1,235.7 113.8,233.1C114.5,230.5 116.0,219.0 116.8,219.4C117.5,219.7 119.0,233.5 119.7,235.7C120.4,237.9 121.9,237.2 122.7,237.2C123.4,237.1 124.9,238.7 125.6,235.1C126.4,231.6 127.8,206.7 128.6,208.9C129.3,211.0 130.8,253.2 131.5,252.2C132.3,251.3 133.7,203.4 134.5,201.1C135.2,198.8 136.7,233.7 137.4,233.6C138.2,233.5 139.6,204.9 140.4,200.6C141.1,196.3 142.6,196.8 143.3,199.1C144.1,201.3 145.6,212.6 146.3,218.8C147.0,225.1 148.5,252.3 149.2,249.1C150.0,246.0 151.5,196.8 152.2,193.3C152.9,189.7 154.4,213.5 155.2,220.6C155.9,227.7 157.4,258.7 158.1,250.2C158.8,241.8 160.3,165.1 161.1,153.0C161.8,141.0 163.3,148.2 164.0,154.0C164.8,159.8 166.2,194.2 167.0,199.3C167.7,204.4 169.2,193.1 169.9,194.7C170.7,196.2 172.1,208.9 172.9,211.6C173.6,214.2 175.1,217.8 175.8,216.0C176.6,214.1 178.0,200.2 178.8,196.7C179.5,193.1 181.0,190.6 181.7,187.4C182.5,184.3 184.0,173.2 184.7,171.6C185.4,170.0 186.9,171.5 187.6,174.5C188.4,177.4 189.9,188.8 190.6,195.2C191.3,201.6 192.8,227.4 193.6,225.4C194.3,223.4 195.8,185.6 196.5,179.3C197.2,173.1 198.7,169.1 199.5,175.4C200.2,181.6 201.7,227.5 202.4,229.6C203.2,231.7 204.6,195.8 205.4,192.2C206.1,188.6 207.6,198.4 208.3,200.8C209.1,203.3 210.5,215.7 211.3,211.7C212.0,207.7 213.5,175.7 214.2,168.9C215.0,162.2 216.4,154.2 217.2,157.7C217.9,161.2 219.4,197.7 220.1,196.8C220.9,196.0 222.4,150.9 223.1,150.7C223.8,150.6 225.3,192.8 226.0,195.4C226.8,198.0 228.3,173.8 229.0,171.3C229.7,168.8 231.2,175.3 232.0,175.5C232.7,175.7 234.2,170.4 234.9,173.0C235.6,175.7 237.1,196.7 237.9,196.4C238.6,196.0 240.1,177.2 240.8,170.1C241.6,162.9 243.0,135.6 243.8,139.2C244.5,142.7 246.0,194.6 246.7,198.8C247.5,202.9 248.9,173.1 249.7,172.2C250.4,171.4 251.9,193.3 252.6,191.6C253.4,190.0 254.8,162.5 255.6,159.4C256.3,156.2 257.8,165.1 258.5,166.4C259.3,167.6 260.8,166.9 261.5,169.6C262.2,172.3 263.7,189.6 264.4,187.9C265.2,186.2 266.7,156.6 267.4,156.0C268.1,155.5 269.6,177.9 270.4,183.4C271.1,188.9 272.6,202.7 273.3,200.1C274.1,197.5 275.5,166.8 276.3,162.6C277.0,158.5 278.5,168.8 279.2,167.0C280.0,165.1 281.4,147.5 282.2,148.0C282.9,148.6 284.4,170.6 285.1,171.1C285.9,171.6 287.3,155.7 288.1,151.9C288.8,148.2 290.3,138.0 291.0,141.3C291.8,144.6 293.3,176.0 294.0,178.3C294.7,180.6 296.2,163.0 296.9,159.8C297.7,156.6 299.2,156.4 299.9,152.9C300.6,149.4 302.1,131.5 302.9,131.7C303.6,132.0 305.1,147.7 305.8,155.1C306.5,162.4 308.0,187.2 308.8,190.6C309.5,194.0 311.0,189.4 311.7,182.5C312.5,175.5 313.9,137.9 314.7,135.3C315.4,132.6 316.9,160.8 317.6,160.9C318.4,161.0 319.8,141.8 320.6,135.9C321.3,130.0 322.8,108.7 323.5,114.0C324.3,119.3 325.7,174.7 326.5,178.3C327.2,181.8 328.7,148.7 329.4,142.4C330.2,136.2 331.7,130.0 332.4,128.7C333.1,127.3 334.6,128.2 335.3,131.3C336.1,134.4 337.6,153.5 338.3,153.6C339.0,153.8 340.5,134.9 341.3,132.3C342.0,129.6 343.5,129.7 344.2,132.1C344.9,134.5 346.4,153.9 347.2,151.4C347.9,148.9 349.7,117.1 350.1,112.2" stroke="#d0aa44"/>
<path d="M51.8,239.9C52.1,244.2 54.0,277.8 54.7,274.2C55.5,270.6 56.9,211.9 57.7,211.1C58.4,210.4 59.9,265.4 60.6,268.1C61.4,270.8 62.8,235.8 63.6,232.7C64.3,229.6 65.8,241.5 66.5,243.1C67.3,244.7 68.7,244.6 69.5,245.6C70.2,246.6 71.7,247.8 72.4,251.2C73.2,254.7 74.7,272.0 75.4,273.1C76.1,274.1 77.6,266.2 78.3,259.8C79.1,253.3 80.6,231.6 81.3,221.5C82.0,211.4 83.5,176.7 84.3,179.0C85.0,181.3 86.5,234.5 87.2,240.1C87.9,245.7 89.4,223.8 90.2,223.8C90.9,223.7 92.4,237.2 93.1,239.4C93.9,241.6 95.3,239.9 96.1,241.4C96.8,242.9 98.3,252.9 99.0,251.4C99.8,249.9 101.2,231.2 102.0,229.3C102.7,227.5 104.2,232.5 104.9,236.7C105.7,240.9 107.1,267.1 107.9,263.3C108.6,259.4 110.1,205.2 110.8,205.8C111.6,206.3 113.1,265.1 113.8,267.6C114.5,270.2 116.0,229.2 116.8,226.2C117.5,223.2 119.0,241.7 119.7,243.6C120.4,245.6 121.9,244.2 122.7,241.7C123.4,239.2 124.9,223.5 125.6,223.7C126.4,223.9 127.8,241.9 128.6,243.2C129.3,244.5 130.8,234.7 131.5,233.8C132.3,233.0 133.7,235.7 134.5,236.0C135.2,236.3 136.7,241.9 137.4,236.3C138.2,230.7 139.6,187.0 140.4,191.1C141.1,195.3 142.6,266.1 143.3,269.4C144.1,272.6 145.6,223.1 146.3,217.2C147.0,211.3 148.5,220.1 149.2,222.2C150.0,224.3 151.5,235.6 152.2,234.1C152.9,232.7 154.4,214.0 155.2,210.6C155.9,207.2 157.4,208.0 158.1,206.8C158.8,205.6 160.3,200.4 161.1,201.3C161.8,202.2 163.3,211.2 164.0,214.0C164.8,216.8 166.2,225.2 167.0,223.6C167.7,222.0 169.2,204.7 169.9,201.0C170.7,197.3 172.1,194.0 172.9,194.1C173.6,194.1 175.1,197.3 175.8,201.5C176.6,205.7 178.0,226.0 178.8,227.5C179.5,229.0 181.0,224.8 181.7,213.5C182.5,202.1 184.0,140.0 184.7,137.0C185.4,134.0 186.9,180.0 187.6,189.2C188.4,198.4 189.9,210.1 190.6,210.7C191.3,211.3 192.8,197.6 193.6,194.1C194.3,190.7 195.8,181.9 196.5,183.3C197.2,184.7 198.7,203.0 199.5,205.2C200.2,207.4 201.7,205.7 202.4,201.1C203.2,196.4 204.6,167.2 205.4,168.1C206.1,168.9 207.6,203.6 208.3,207.7C209.1,211.8 210.5,202.5 211.3,200.9C212.0,199.3 213.5,196.4 214.2,194.6C215.0,192.9 216.4,190.1 217.2,186.8C217.9,183.5 219.4,170.0 220.1,168.2C220.9,166.4 222.4,172.9 223.1,172.2C223.8,171.6 225.3,155.5 226.0,163.0C226.8,170.6 228.3,233.1 229.0,232.4C229.7,231.6 231.2,159.4 232.0,157.0C232.7,154.7 234.2,212.0 234.9,213.3C235.6,214.6 237.1,168.1 237.9,167.5C238.6,166.8 240.1,211.3 240.8,208.0C241.6,204.7 243.0,143.1 243.8,141.0C244.5,138.9 246.0,184.6 246.7,191.0C247.5,197.4 248.9,193.9 249.7,192.2C250.4,190.6 251.9,184.8 252.6,178.0C253.4,171.2 254.8,134.6 255.6,137.7C256.3,140.9 257.8,200.4 258.5,203.2C259.3,206.0 260.8,160.2 261.5,160.2C262.2,160.2 263.7,197.6 264.4,203.2C265.2,208.7 266.7,213.3 267.4,204.6C268.1,195.9 269.6,134.2 270.4,133.8C271.1,133.3 272.6,196.2 273.3,200.7C274.1,205.1 275.5,173.2 276.3,169.4C277.0,165.7 278.5,170.0 279.2,170.5C280.0,171.0 281.4,170.6 282.2,173.3C282.9,175.9 284.4,197.2 285.1,191.7C285.9,186.2 287.3,131.4 288.1,129.4C288.8,127.5 290.3,169.2 291.0,176.1C291.8,183.0 293.3,189.7 294.0,184.6C294.7,179.4 296.2,136.4 296.9,135.0C297.7,133.7 299.2,156.2 299.9,173.9C300.6,191.6 302.1,279.7 302.9,277.0C303.6,274.3 305.1,166.3 305.8,152.6C306.5,139.0 308.0,171.5 308.8,167.8C309.5,164.1 311.0,121.1 311.7,122.9C312.5,124.8 313.9,177.9 314.7,182.3C315.4,186.6 316.9,164.2 317.6,157.6C318.4,151.1 319.8,127.2 320.6,129.6C321.3,131.9 322.8,174.3 323.5,176.3C324.3,178.4 325.7,150.8 326.5,146.0C327.2,141.3 328.7,137.9 329.4,138.1C330.2,138.3 331.7,143.1 332.4,147.6C333.1,152.0 334.6,173.4 335.3,173.9C336.1,174.4 337.6,155.9 338.3,151.6C339.0,147.3 340.5,139.5 341.3,139.4C342.0,139.3 343.5,153.1 344.2,150.7C344.9,148.2 346.8,123.6 347.2,119.8" stroke="#a8d878"/>
<path d="M57.7,250.7C58.0,245.9 59.9,212.1 60.6,212.1C61.4,212.2 62.8,245.0 63.6,251.2C64.3,257.4 65.8,261.6 66.5,261.7C67.3,261.8 68.7,245.7 69.5,252.2C70.2,258.7 71.7,314.9 72.4,314.0C73.2,313.1 74.7,259.4 75.4,245.0C76.1,230.7 77.6,194.8 78.3,199.3C79.1,203.7 80.6,275.1 81.3,280.8C82.0,286.4 83.5,252.0 84.3,244.8C85.0,237.5 86.5,223.2 87.2,222.8C87.9,222.4 89.4,241.1 90.2,241.7C90.9,242.3 92.4,229.2 93.1,227.8C93.9,226.3 95.3,230.5 96.1,229.9C96.8,229.3 98.3,219.5 99.0,222.8C99.8,226.1 101.2,258.6 102.0,256.4C102.7,254.2 104.2,205.3 104.9,205.4C105.7,205.4 107.1,252.9 107.9,256.8C108.6,260.8 110.1,240.1 110.8,236.8C111.6,233.5 113.1,236.0 113.8,230.4C114.5,224.7 116.0,187.1 116.8,191.4C117.5,195.6 119.0,256.5 119.7,264.3C120.4,272.1 121.9,256.4 122.7,253.8C123.4,251.2 124.9,246.7 125.6,243.6C126.4,240.6 127.8,232.1 128.6,229.6C129.3,227.2 130.8,228.5 131.5,223.9C132.3,219.3 133.7,192.6 134.5,193.0C135.2,193.4 136.7,225.0 137.4,226.9C138.2,228.8 139.6,208.9 140.4,208.2C141.1,207.6 142.6,221.3 143.3,221.8C144.1,222.4 145.6,211.3 146.3,212.4C147.0,213.4 148.5,229.6 149.2,230.4C150.0,231.2 151.5,215.9 152.2,218.7C152.9,221.5 154.4,261.3 155.2,252.8C155.9,244.3 157.4,150.6 158.1,150.5C158.8,150.5 160.3,246.9 161.1,252.2C161.8,257.5 163.3,200.8 164.0,193.2C164.8,185.7 166.2,187.8 167.0,191.9C167.7,196.0 169.2,229.6 169.9,226.3C170.7,223.1 172.1,163.6 172.9,166.1C173.6,168.6 175.1,243.2 175.8,246.3C176.6,249.4 178.0,198.0 178.8,190.7C179.5,183.3 181.0,185.7 181.7,187.5C182.5,189.3 184.0,204.1 184.7,205.1C185.4,206.1 186.9,192.5 187.6,195.8C188.4,199.1 189.9,232.1 190.6,231.6C191.3,231.1 192.8,194.5 193.6,191.9C194.3,189.3 195.8,210.5 196.5,210.9C197.2,211.3 198.7,196.4 199.5,195.0C200.2,193.7 201.7,200.4 202.4,200.2C203.2,199.9 204.6,195.6 205.4,193.1C206.1,190.6 207.6,179.0 208.3,180.0C209.1,181.0 210.5,197.9 211.3,200.9C212.0,203.9 213.5,203.4 214.2,203.9C215.0,204.4 216.4,212.2 217.2,205.2C217.9,198.1 219.4,150.7 220.1,147.6C220.9,144.6 222.4,173.8 223.1,180.6C223.8,187.3 225.3,203.9 226.0,201.5C226.8,199.1 228.3,164.6 229.0,161.6C229.7,158.7 231.2,171.9 232.0,178.2C232.7,184.5 234.2,210.1 234.9,211.9C235.6,213.8 237.1,199.4 237.9,192.8C238.6,186.3 240.1,159.3 240.8,159.4C241.6,159.5 243.0,190.7 243.8,193.7C244.5,196.7 246.0,185.0 246.7,183.4C247.5,181.7 248.9,182.5 249.7,180.6C250.4,178.6 251.9,166.3 252.6,167.9C253.4,169.5 254.8,194.4 255.6,193.1C256.3,191.9 257.8,159.8 258.5,157.7C259.3,155.6 260.8,172.6 261.5,176.5C262.2,180.3 263.7,188.1 264.4,188.4C265.2,188.6 266.7,178.8 267.4,178.3C268.1,177.8 269.6,184.4 270.4,184.1C271.1,183.7 272.6,180.9 273.3,175.4C274.1,169.8 275.5,139.3 276.3,139.7C277.0,140.2 278.5,174.4 279.2,178.9C280.0,183.5 281.4,180.8 282.2,176.2C282.9,171.5 284.4,143.3 285.1,141.7C285.9,140.2 287.3,162.1 288.1,163.5C288.8,164.8 290.3,152.5 291.0,152.6C291.8,152.8 293.3,167.2 294.0,164.6C294.7,161.9 296.2,127.7 296.9,131.5C297.7,135.4 299.2,194.2 299.9,195.4C300.6,196.5 302.1,146.6 302.9,140.8C303.6,135.0 305.1,143.6 305.8,149.0C306.5,154.4 308.0,185.7 308.8,184.2C309.5,182.7 311.0,140.8 311.7,136.9C312.5,133.0 313.9,150.3 314.7,152.8C315.4,155.2 316.9,158.6 317.6,156.3C318.4,154.0 319.8,134.9 320.6,134.6C321.3,134.3 322.8,155.3 323.5,153.6C324.3,152.0 325.7,124.6 326.5,121.7C327.2,118.7 328.7,123.4 329.4,129.7C330.2,136.0 331.7,172.7 332.4,171.8C333.1,171.0 334.6,129.1 335.3,123.1C336.1,117.1 337.6,126.0 338.3,124.0C339.0,121.9 340.5,101.9 341.3,107.0C342.0,112.1 343.5,162.1 344.2,164.9C344.9,167.7 346.4,132.2 347.2,129.4C347.9,126.6 349.7,141.2 350.1,142.8" stroke="#a05434"/>
<path d="M72.4,221.9C72.8,221.7 74.7,212.2 75.4,220.0C76.1,227.8 77.6,285.7 78.3,284.3C79.1,282.8 80.6,211.7 81.3,208.7C82.0,205.6 83.5,258.8 84.3,260.0C85.0,261.2 86.5,220.3 87.2,218.4C87.9,216.4 89.4,241.6 90.2,244.3C90.9,246.9 92.4,242.7 93.1,239.4C93.9,236.2 95.3,213.6 96.1,218.3C96.8,223.0 98.3,278.7 99.0,277.3C99.8,275.9 101.2,213.5 102.0,207.2C102.7,200.9 104.2,223.6 104.9,226.9C105.7,230.1 107.1,226.7 107.9,233.1C108.6,239.6 110.1,282.3 110.8,278.1C111.6,273.9 113.1,204.7 113.8,199.3C114.5,193.9 116.0,228.4 116.8,234.9C117.5,241.5 119.0,252.3 119.7,251.4C120.4,250.5 121.9,233.2 122.7,227.5C123.4,221.9 124.9,207.9 125.6,206.2C126.4,204.5 127.8,212.2 128.6,214.2C129.3,216.1 130.8,216.5 131.5,222.0C132.3,227.5 133.7,260.5 134.5,258.4C135.2,256.4 136.7,211.0 137.4,205.6C138.2,200.2 139.6,212.5 140.4,215.3C141.1,218.0 142.6,227.1 143.3,227.4C144.1,227.7 145.6,219.0 146.3,217.9C147.0,216.8 148.5,220.4 149.2,218.5C150.0,216.7 151.5,206.9 152.2,203.2C152.9,199.5 154.4,183.1 155.2,188.8C155.9,194.4 157.4,247.9 158.1,248.5C158.8,249.2 160.3,201.0 161.1,194.3C161.8,187.6 163.3,194.2 164.0,195.1C164.8,196.0 166.2,198.7 167.0,201.3C167.7,203.9 169.2,211.7 169.9,216.1C170.7,220.4 172.1,244.7 172.9,235.9C173.6,227.1 175.1,144.2 175.8,145.7C176.6,147.2 178.0,237.0 178.8,247.6C179.5,258.2 181.0,240.8 181.7,230.3C182.5,219.7 184.0,165.6 184.7,162.9C185.4,160.2 186.9,208.1 187.6,208.7C188.4,209.3 189.9,167.9 190.6,167.8C191.3,167.7 192.8,218.9 193.6,207.7C194.3,196.4 195.8,81.2 196.5,78.0C197.2,74.8 198.7,165.1 199.5,182.4C200.2,199.7 201.7,216.5 202.4,216.2C203.2,215.8 204.6,183.3 205.4,179.9C206.1,176.5 207.6,182.5 208.3,189.0C209.1,195.5 210.5,237.4 211.3,231.7C212.0,226.0 213.5,147.8 214.2,143.3C215.0,138.7 216.4,189.6 217.2,195.1C217.9,200.5 219.4,187.9 220.1,187.0C220.9,186.1 222.4,187.8 223.1,187.8C223.8,187.8 225.3,193.5 226.0,187.1C226.8,180.7 228.3,136.5 229.0,136.7C229.7,136.9 231.2,179.8 232.0,188.7C232.7,197.5 234.2,210.4 234.9,207.5C235.6,204.6 237.1,169.1 237.9,165.3C238.6,161.5 240.1,170.6 240.8,177.1C241.6,183.6 243.0,220.9 243.8,217.2C244.5,213.5 246.0,148.9 246.7,147.7C247.5,146.5 248.9,208.3 249.7,207.7C250.4,207.2 251.9,146.3 252.6,143.2C253.4,140.2 254.8,180.0 255.6,183.3C256.3,186.7 257.8,169.9 258.5,169.9C259.3,169.9 260.8,183.3 261.5,183.2C262.2,183.1 263.7,169.2 264.4,168.8C265.2,168.4 266.7,179.9 267.4,180.0C268.1,180.2 269.6,171.8 270.4,170.4C271.1,168.9 272.6,167.5 273.3,168.2C274.1,168.9 275.5,172.9 276.3,175.7C277.0,178.6 278.5,198.2 279.2,191.2C280.0,184.1 281.4,117.7 282.2,119.3C282.9,120.9 284.4,202.3 285.1,203.9C285.9,205.4 287.3,139.3 288.1,131.7C288.8,124.1 290.3,139.3 291.0,143.1C291.8,146.9 293.3,160.9 294.0,161.8C294.7,162.6 296.2,151.8 296.9,150.0C297.7,148.1 299.2,144.2 299.9,147.3C300.6,150.4 302.1,171.4 302.9,174.7C303.6,178.0 305.1,176.6 305.8,173.6C306.5,170.6 308.0,154.3 308.8,150.8C309.5,147.3 311.0,146.3 311.7,145.5C312.5,144.6 313.9,139.9 314.7,144.3C315.4,148.8 316.9,184.1 317.6,181.0C318.4,178.0 319.8,121.7 320.6,119.6C321.3,117.5 322.8,162.4 323.5,164.2C324.3,166.1 325.7,141.2 326.5,134.3C327.2,127.3 328.7,104.4 329.4,108.6C330.2,112.8 331.7,164.7 332.4,168.1C333.1,171.4 334.6,140.1 335.3,135.2C336.1,130.4 337.6,129.0 338.3,129.5C339.0,129.9 340.5,134.5 341.3,138.8C342.0,143.0 343.5,163.8 344.2,163.4C344.9,162.9 346.8,138.7 347.2,135.2" stroke="#dcc862"/>
<path d="M78.3,249.4C78.7,246.0 80.6,220.1 81.3,222.0C82.0,223.8 83.5,265.7 84.3,264.2C85.0,262.8 86.5,220.5 87.2,210.4C87.9,200.2 89.4,170.5 90.2,183.0C90.9,195.5 92.4,300.7 93.1,310.0C93.9,319.3 95.3,269.7 96.1,257.6C96.8,245.5 98.3,212.1 99.0,212.8C99.8,213.5 101.2,262.4 102.0,263.3C102.7,264.2 104.2,226.1 104.9,220.1C105.7,214.1 107.1,214.7 107.9,215.3C108.6,216.0 110.1,219.1 110.8,225.2C111.6,231.3 113.1,263.3 113.8,264.2C114.5,265.1 116.0,238.6 116.8,232.2C117.5,225.9 119.0,211.6 119.7,213.6C120.4,215.6 121.9,247.0 122.7,248.0C123.4,249.0 124.9,225.1 125.6,221.5C126.4,218.0 127.8,216.7 128.6,219.5C129.3,222.3 130.8,243.8 131.5,244.1C132.3,244.3 133.7,219.5 134.5,221.5C135.2,223.5 136.7,259.9 137.4,260.1C138.2,260.3 139.6,227.3 140.4,223.0C141.1,218.7 142.6,223.6 143.3,225.8C144.1,228.0 145.6,239.5 146.3,240.6C147.0,241.6 148.5,242.9 149.2,234.0C150.0,225.1 151.5,165.3 152.2,169.4C152.9,173.6 154.4,263.1 155.2,267.6C155.9,272.0 157.4,213.2 158.1,205.0C158.8,196.9 160.3,200.5 161.1,202.7C161.8,204.9 163.3,223.6 164.0,222.6C164.8,221.7 166.2,195.1 167.0,194.8C167.7,194.6 169.2,221.2 169.9,220.6C170.7,219.9 172.1,191.5 172.9,189.5C173.6,187.6 175.1,201.4 175.8,204.8C176.6,208.3 178.0,216.8 178.8,217.2C179.5,217.7 181.0,213.3 181.7,208.5C182.5,203.7 184.0,179.0 184.7,178.8C185.4,178.6 186.9,204.0 187.6,206.8C188.4,209.6 189.9,201.2 190.6,201.1C191.3,201.1 192.8,204.7 193.6,206.4C194.3,208.1 195.8,216.9 196.5,214.6C197.2,212.3 198.7,187.9 199.5,187.8C200.2,187.7 201.7,212.2 202.4,214.0C203.2,215.8 204.6,204.9 205.4,202.3C206.1,199.8 207.6,193.5 208.3,193.6C209.1,193.7 210.5,206.2 211.3,202.9C212.0,199.5 213.5,168.8 214.2,166.7C215.0,164.6 216.4,185.1 217.2,186.2C217.9,187.3 219.4,176.1 220.1,175.5C220.9,174.9 222.4,183.6 223.1,181.5C223.8,179.3 225.3,159.2 226.0,157.9C226.8,156.7 228.3,172.9 229.0,171.3C229.7,169.7 231.2,142.9 232.0,145.3C232.7,147.6 234.2,183.4 234.9,190.3C235.6,197.1 237.1,203.0 237.9,200.0C238.6,197.0 240.1,167.8 240.8,166.0C241.6,164.2 243.0,186.2 243.8,185.5C244.5,184.8 246.0,161.8 246.7,160.6C247.5,159.4 248.9,175.7 249.7,175.8C250.4,176.0 251.9,162.2 252.6,161.6C253.4,160.9 254.8,173.4 255.6,170.8C256.3,168.2 257.8,141.7 258.5,140.8C259.3,139.9 260.8,158.2 261.5,163.7C262.2,169.3 263.7,180.7 264.4,185.0C265.2,189.3 266.7,203.8 267.4,198.2C268.1,192.6 269.6,142.2 270.4,140.4C271.1,138.6 272.6,177.9 273.3,183.7C274.1,189.4 275.5,189.5 276.3,186.5C277.0,183.5 278.5,156.8 279.2,159.5C280.0,162.1 281.4,209.1 282.2,207.5C282.9,205.9 284.4,152.6 285.1,146.8C285.9,140.9 287.3,158.6 288.1,160.8C288.8,163.0 290.3,165.5 291.0,164.4C291.8,163.4 293.3,156.5 294.0,152.5C294.7,148.5 296.2,132.0 296.9,132.5C297.7,132.9 299.2,151.1 299.9,156.1C300.6,161.0 302.1,173.7 302.9,171.8C303.6,169.8 305.1,143.1 305.8,140.3C306.5,137.4 308.0,142.5 308.8,149.0C309.5,155.5 311.0,195.5 311.7,191.9C312.5,188.4 313.9,125.1 314.7,120.7C315.4,116.4 316.9,155.1 317.6,157.2C318.4,159.3 319.8,139.3 320.6,137.8C321.3,136.4 322.8,147.1 323.5,145.3C324.3,143.5 325.7,125.6 326.5,123.2C327.2,120.8 328.7,125.7 329.4,126.2C330.2,126.8 331.7,127.2 332.4,127.7C333.1,128.1 334.6,128.7 335.3,129.9C336.1,131.2 337.6,136.2 338.3,137.7C339.0,139.2 340.5,140.9 341.3,141.9C342.0,142.8 343.5,147.9 344.2,145.2C344.9,142.5 346.4,121.0 347.2,120.2C347.9,119.4 349.7,136.4 350.1,138.7" stroke="#98cc5a"/>
<path d="M87.2,239.3C87.6,237.5 89.4,226.6 90.2,225.1C90.9,223.6 92.4,221.7 93.1,227.3C93.9,232.9 95.3,269.3 96.1,269.9C96.8,270.4 98.3,233.8 99.0,231.6C99.8,229.3 101.2,248.9 102.0,251.6C102.7,254.3 104.2,256.5 104.9,253.3C105.7,250.1 107.1,228.4 107.9,226.0C108.6,223.5 110.1,230.7 110.8,233.6C111.6,236.5 113.1,247.9 113.8,249.1C114.5,250.3 116.0,248.9 116.8,242.9C117.5,237.0 119.0,199.6 119.7,201.8C120.4,204.0 121.9,258.7 122.7,260.5C123.4,262.2 124.9,217.8 125.6,216.1C126.4,214.4 127.8,248.1 128.6,246.9C129.3,245.7 130.8,205.6 131.5,206.6C132.3,207.7 133.7,255.4 134.5,255.0C135.2,254.7 136.7,203.3 137.4,203.7C138.2,204.2 139.6,255.6 140.4,258.6C141.1,261.7 142.6,235.7 143.3,228.1C144.1,220.6 145.6,207.1 146.3,198.2C147.0,189.3 148.5,148.8 149.2,157.0C150.0,165.2 151.5,261.8 152.2,263.6C152.9,265.4 154.4,173.7 155.2,171.4C155.9,169.0 157.4,237.2 158.1,244.8C158.8,252.4 160.3,238.3 161.1,232.1C161.8,226.0 163.3,197.6 164.0,195.4C164.8,193.2 166.2,213.1 167.0,214.6C167.7,216.1 169.2,205.0 169.9,207.5C170.7,210.1 172.1,235.5 172.9,234.8C173.6,234.1 175.1,204.4 175.8,201.6C176.6,198.9 178.0,213.4 178.8,212.6C179.5,211.9 181.0,195.4 181.7,195.5C182.5,195.6 184.0,210.9 184.7,213.7C185.4,216.6 186.9,218.8 187.6,218.1C188.4,217.3 189.9,209.1 190.6,208.1C191.3,207.1 192.8,215.1 193.6,210.1C194.3,205.1 195.8,167.0 196.5,168.2C197.2,169.4 198.7,217.5 199.5,219.9C200.2,222.4 201.7,191.4 202.4,187.5C203.2,183.6 204.6,188.8 205.4,188.6C206.1,188.4 207.6,183.0 208.3,186.0C209.1,189.1 210.5,216.3 211.3,213.1C212.0,210.0 213.5,159.8 214.2,161.1C215.0,162.5 216.4,224.0 217.2,223.8C217.9,223.7 219.4,164.8 220.1,159.9C220.9,155.0 222.4,184.8 223.1,184.9C223.8,184.9 225.3,157.5 226.0,160.2C226.8,162.9 228.3,204.5 229.0,206.3C229.7,208.1 231.2,177.9 232.0,174.6C232.7,171.4 234.2,176.3 234.9,180.1C235.6,183.9 237.1,207.3 237.9,205.1C238.6,202.8 240.1,165.7 240.8,162.1C241.6,158.6 243.0,173.7 243.8,176.8C244.5,179.9 246.0,184.0 246.7,186.7C247.5,189.5 248.9,199.7 249.7,198.7C250.4,197.7 251.9,183.0 252.6,178.6C253.4,174.2 254.8,165.2 255.6,163.3C256.3,161.5 257.8,161.5 258.5,163.8C259.3,166.1 260.8,179.9 261.5,181.7C262.2,183.5 263.7,180.7 264.4,178.5C265.2,176.2 266.7,164.9 267.4,163.4C268.1,161.9 269.6,163.7 270.4,166.5C271.1,169.2 272.6,185.2 273.3,185.6C274.1,186.0 275.5,169.5 276.3,169.8C277.0,170.0 278.5,189.4 279.2,187.4C280.0,185.3 281.4,157.7 282.2,153.3C282.9,148.9 284.4,164.8 285.1,152.3C285.9,139.7 287.3,50.6 288.1,53.0C288.8,55.4 290.3,159.5 291.0,171.5C291.8,183.6 293.3,149.7 294.0,149.4C294.7,149.2 296.2,169.0 296.9,169.5C297.7,170.0 299.2,150.9 299.9,153.5C300.6,156.0 302.1,192.1 302.9,189.8C303.6,187.6 305.1,137.4 305.8,135.5C306.5,133.7 308.0,170.9 308.8,174.7C309.5,178.4 311.0,169.2 311.7,165.6C312.5,162.0 313.9,146.5 314.7,145.6C315.4,144.7 316.9,159.7 317.6,158.3C318.4,157.0 319.8,136.4 320.6,134.9C321.3,133.3 322.8,143.0 323.5,146.0C324.3,149.0 325.7,160.3 326.5,158.9C327.2,157.5 328.7,132.1 329.4,135.1C330.2,138.1 331.7,181.9 332.4,182.7C333.1,183.5 334.6,147.9 335.3,141.4C336.1,134.9 337.6,130.3 338.3,130.8C339.0,131.3 340.5,142.6 341.3,145.7C342.0,148.8 343.5,157.6 344.2,155.3C344.9,153.0 346.8,130.6 347.2,127.1" stroke="#b08c38"/>
<path d="M102.0,233.2C102.3,232.1 104.2,222.0 104.9,224.1C105.7,226.3 107.1,248.5 107.9,250.1C108.6,251.8 110.1,238.8 110.8,237.5C111.6,236.3 113.1,245.3 113.8,239.9C114.5,234.5 116.0,196.4 116.8,194.7C117.5,193.0 119.0,219.6 119.7,226.3C120.4,233.0 121.9,245.5 122.7,248.3C123.4,251.0 124.9,250.5 125.6,248.4C126.4,246.4 127.8,240.0 128.6,232.0C129.3,223.9 130.8,181.2 131.5,184.3C132.3,187.5 133.7,255.3 134.5,257.4C135.2,259.5 136.7,206.8 137.4,201.1C138.2,195.4 139.6,208.0 140.4,211.8C141.1,215.7 142.6,230.8 143.3,231.8C144.1,232.8 145.6,221.5 146.3,219.9C147.0,218.3 148.5,224.6 149.2,219.0C150.0,213.4 151.5,175.3 152.2,175.3C152.9,175.4 154.4,214.7 155.2,219.5C155.9,224.2 157.4,209.9 158.1,213.5C158.8,217.1 160.3,253.0 161.1,248.1C161.8,243.2 163.3,177.4 164.0,174.3C164.8,171.3 166.2,220.5 167.0,223.5C167.7,226.4 169.2,202.2 169.9,198.1C170.7,193.9 172.1,188.7 172.9,190.6C173.6,192.5 175.1,212.4 175.8,213.2C176.6,214.0 178.0,200.9 178.8,197.2C179.5,193.6 181.0,181.6 181.7,183.9C182.5,186.3 184.0,216.5 184.7,216.2C185.4,215.9 186.9,184.3 187.6,181.5C188.4,178.7 189.9,197.4 190.6,193.7C191.3,190.0 192.8,152.7 193.6,152.0C194.3,151.3 195.8,185.2 196.5,187.9C197.2,190.6 198.7,173.4 199.5,173.4C200.2,173.5 201.7,187.6 202.4,188.1C203.2,188.6 204.6,177.1 205.4,177.6C206.1,178.1 207.6,193.1 208.3,192.3C209.1,191.4 210.5,171.6 211.3,170.9C212.0,170.2 213.5,186.6 214.2,186.7C215.0,186.7 216.4,175.8 217.2,171.1C217.9,166.4 219.4,147.5 220.1,148.8C220.9,150.0 222.4,177.5 223.1,180.9C223.8,184.3 225.3,175.6 226.0,175.9C226.8,176.2 228.3,185.1 229.0,183.3C229.7,181.4 231.2,162.3 232.0,161.2C232.7,160.1 234.2,175.2 234.9,174.5C235.6,173.8 237.1,154.3 237.9,155.6C238.6,156.8 240.1,184.1 240.8,184.5C241.6,184.9 243.0,161.5 243.8,158.6C244.5,155.7 246.0,157.7 246.7,161.6C247.5,165.5 248.9,192.3 249.7,190.1C250.4,187.8 251.9,142.1 252.6,143.4C253.4,144.7 254.8,200.5 255.6,200.3C256.3,200.0 257.8,143.9 258.5,141.1C259.3,138.2 260.8,177.6 261.5,177.7C262.2,177.7 263.7,140.7 264.4,141.8C265.2,142.9 266.7,183.6 267.4,186.3C268.1,189.0 269.6,166.3 270.4,163.4C271.1,160.6 272.6,163.4 273.3,163.6C274.1,163.7 275.5,164.2 276.3,164.5C277.0,164.8 278.5,166.0 279.2,166.0C280.0,165.9 281.4,162.9 282.2,164.2C282.9,165.4 284.4,179.9 285.1,175.7C285.9,171.4 287.3,132.2 288.1,130.1C288.8,128.0 290.3,158.6 291.0,159.0C291.8,159.3 293.3,133.9 294.0,132.8C294.7,131.7 296.2,144.7 296.9,150.3C297.7,155.9 299.2,179.4 299.9,177.7C300.6,175.9 302.1,140.8 302.9,136.4C303.6,132.1 305.1,140.8 305.8,142.8C306.5,144.7 308.0,146.9 308.8,151.9C309.5,156.9 311.0,184.8 311.7,182.9C312.5,180.9 313.9,135.6 314.7,136.2C315.4,136.8 316.9,189.7 317.6,187.7C318.4,185.8 319.8,126.1 320.6,120.5C321.3,114.9 322.8,137.4 323.5,142.7C324.3,147.9 325.7,163.8 326.5,162.7C327.2,161.6 328.7,139.0 329.4,134.1C330.2,129.2 331.7,122.4 332.4,123.5C333.1,124.6 334.6,142.5 335.3,143.0C336.1,143.5 337.6,126.6 338.3,127.4C339.0,128.2 340.5,150.5 341.3,149.5C342.0,148.5 343.5,122.5 344.2,119.5C344.9,116.5 346.8,125.1 347.2,125.9" stroke="#985030"/>
<path d="M116.8,229.1C117.1,227.9 119.0,214.4 119.7,219.1C120.4,223.8 121.9,264.0 122.7,266.8C123.4,269.7 124.9,249.1 125.6,242.2C126.4,235.3 127.8,210.2 128.6,211.7C129.3,213.2 130.8,251.5 131.5,253.8C132.3,256.2 133.7,232.6 134.5,230.3C135.2,228.0 136.7,238.6 137.4,235.5C138.2,232.4 139.6,207.0 140.4,205.4C141.1,203.8 142.6,221.6 143.3,223.0C144.1,224.3 145.6,217.7 146.3,216.2C147.0,214.7 148.5,212.7 149.2,210.9C150.0,209.0 151.5,199.1 152.2,201.2C152.9,203.2 154.4,228.9 155.2,227.1C155.9,225.4 157.4,189.1 158.1,187.4C158.8,185.6 160.3,211.2 161.1,212.9C161.8,214.7 163.3,200.7 164.0,201.3C164.8,201.9 166.2,214.4 167.0,217.7C167.7,221.0 169.2,233.8 169.9,227.7C170.7,221.6 172.1,171.0 172.9,169.0C173.6,167.1 175.1,206.1 175.8,211.9C176.6,217.7 178.0,220.0 178.8,215.4C179.5,210.8 181.0,175.8 181.7,175.2C182.5,174.6 184.0,210.1 184.7,211.0C185.4,211.9 186.9,182.4 187.6,182.4C188.4,182.4 189.9,206.7 190.6,210.8C191.3,214.9 192.8,217.8 193.6,215.5C194.3,213.2 195.8,195.4 196.5,192.4C197.2,189.5 198.7,192.0 199.5,191.6C200.2,191.2 201.7,187.7 202.4,189.1C203.2,190.5 204.6,200.5 205.4,202.7C206.1,204.9 207.6,211.5 208.3,206.8C209.1,202.1 210.5,167.1 211.3,165.1C212.0,163.1 213.5,187.9 214.2,191.1C215.0,194.3 216.4,193.2 217.2,190.5C217.9,187.8 219.4,173.6 220.1,169.5C220.9,165.5 222.4,154.6 223.1,158.0C223.8,161.3 225.3,197.0 226.0,196.6C226.8,196.1 228.3,157.7 229.0,154.3C229.7,150.8 231.2,161.6 232.0,168.8C232.7,176.1 234.2,214.1 234.9,212.4C235.6,210.8 237.1,156.2 237.9,155.7C238.6,155.2 240.1,203.3 240.8,208.1C241.6,212.9 243.0,203.4 243.8,194.4C244.5,185.3 246.0,138.6 246.7,135.5C247.5,132.4 248.9,163.5 249.7,169.6C250.4,175.8 251.9,184.9 252.6,184.8C253.4,184.6 254.8,171.6 255.6,168.3C256.3,165.1 257.8,159.1 258.5,158.6C259.3,158.1 260.8,163.1 261.5,164.3C262.2,165.5 263.7,163.9 264.4,167.9C265.2,171.9 266.7,195.7 267.4,196.5C268.1,197.3 269.6,178.4 270.4,174.0C271.1,169.5 272.6,161.7 273.3,161.1C274.1,160.5 275.5,170.2 276.3,169.1C277.0,168.0 278.5,153.4 279.2,152.4C280.0,151.4 281.4,160.2 282.2,160.9C282.9,161.5 284.4,159.0 285.1,157.4C285.9,155.7 287.3,150.9 288.1,147.6C288.8,144.2 290.3,131.3 291.0,130.9C291.8,130.4 293.3,139.5 294.0,144.0C294.7,148.6 296.2,168.8 296.9,167.5C297.7,166.2 299.2,135.1 299.9,133.5C300.6,132.0 302.1,150.3 302.9,155.1C303.6,160.0 305.1,172.5 305.8,172.4C306.5,172.3 308.0,156.6 308.8,154.7C309.5,152.7 311.0,155.6 311.7,157.1C312.5,158.5 313.9,171.2 314.7,166.4C315.4,161.6 316.9,119.2 317.6,118.4C318.4,117.5 319.8,158.5 320.6,159.5C321.3,160.5 322.8,127.6 323.5,126.2C324.3,124.8 325.7,145.6 326.5,148.4C327.2,151.2 328.7,154.2 329.4,148.6C330.2,142.9 331.7,105.6 332.4,103.3C333.1,101.0 334.6,124.3 335.3,130.2C336.1,136.1 337.6,155.1 338.3,150.7C339.0,146.3 340.5,96.1 341.3,95.0C342.0,93.9 343.5,140.9 344.2,141.9C344.9,142.9 346.8,107.9 347.2,103.1" stroke="#74b648"/>
<path d="M131.5,234.3C131.9,231.4 133.7,211.0 134.5,210.9C135.2,210.9 136.7,230.1 137.4,234.0C138.2,237.9 139.6,247.6 140.4,242.3C141.1,237.0 142.6,190.9 143.3,191.7C144.1,192.6 145.6,249.0 146.3,248.8C147.0,248.7 148.5,193.9 149.2,190.7C150.0,187.5 151.5,222.5 152.2,223.3C152.9,224.0 154.4,195.5 155.2,196.7C155.9,197.9 157.4,232.7 158.1,233.0C158.8,233.3 160.3,203.5 161.1,199.2C161.8,194.9 163.3,198.4 164.0,198.5C164.8,198.5 166.2,199.8 167.0,199.3C167.7,198.9 169.2,194.9 169.9,194.7C170.7,194.6 172.1,197.7 172.9,198.0C173.6,198.4 175.1,198.1 175.8,197.6C176.6,197.0 178.0,193.1 178.8,193.7C179.5,194.3 181.0,202.8 181.7,202.5C182.5,202.1 184.0,191.2 184.7,191.1C185.4,191.0 186.9,201.8 187.6,201.5C188.4,201.3 189.9,189.6 190.6,188.9C191.3,188.3 192.8,198.4 193.6,196.2C194.3,194.0 195.8,168.3 196.5,171.3C197.2,174.3 198.7,219.0 199.5,220.3C200.2,221.6 201.7,187.2 202.4,181.5C203.2,175.9 204.6,174.8 205.4,174.8C206.1,174.9 207.6,178.2 208.3,182.2C209.1,186.3 210.5,210.3 211.3,207.4C212.0,204.5 213.5,159.9 214.2,159.1C215.0,158.2 216.4,202.3 217.2,200.6C217.9,198.9 219.4,147.5 220.1,145.6C220.9,143.7 222.4,183.0 223.1,185.4C223.8,187.8 225.3,169.1 226.0,164.9C226.8,160.7 228.3,148.2 229.0,152.1C229.7,156.0 231.2,195.5 232.0,195.8C232.7,196.2 234.2,156.7 234.9,154.5C235.6,152.4 237.1,177.3 237.9,178.7C238.6,180.1 240.1,165.9 240.8,165.7C241.6,165.5 243.0,175.9 243.8,176.9C244.5,177.9 246.0,176.7 246.7,173.6C247.5,170.6 248.9,150.3 249.7,152.8C250.4,155.3 251.9,194.6 252.6,193.8C253.4,193.0 254.8,150.8 255.6,146.6C256.3,142.5 257.8,156.0 258.5,160.7C259.3,165.4 260.8,185.2 261.5,184.2C262.2,183.2 263.7,155.0 264.4,152.9C265.2,150.8 266.7,164.2 267.4,167.3C268.1,170.3 269.6,177.9 270.4,177.4C271.1,176.8 272.6,164.6 273.3,162.6C274.1,160.7 275.5,164.0 276.3,161.8C277.0,159.7 278.5,147.4 279.2,145.5C280.0,143.6 281.4,146.3 282.2,146.7C282.9,147.0 284.4,148.0 285.1,148.5C285.9,149.0 287.3,147.8 288.1,150.9C288.8,154.0 290.3,176.0 291.0,173.6C291.8,171.2 293.3,133.8 294.0,131.7C294.7,129.6 296.2,151.5 296.9,156.7C297.7,161.9 299.2,176.2 299.9,173.2C300.6,170.3 302.1,135.0 302.9,133.0C303.6,131.0 305.1,156.3 305.8,157.3C306.5,158.3 308.0,139.2 308.8,141.0C309.5,142.8 311.0,174.1 311.7,171.6C312.5,169.2 313.9,122.8 314.7,121.4C315.4,120.1 316.9,160.8 317.6,160.7C318.4,160.6 319.8,123.9 320.6,120.6C321.3,117.3 322.8,126.5 323.5,134.6C324.3,142.6 325.7,185.5 326.5,184.8C327.2,184.0 328.7,134.9 329.4,128.6C330.2,122.4 331.7,137.3 332.4,134.8C333.1,132.3 334.6,105.9 335.3,108.5C336.1,111.2 337.6,153.1 338.3,155.9C339.0,158.7 340.5,135.8 341.3,131.0C342.0,126.2 343.5,116.5 344.2,117.6C344.9,118.7 346.4,140.4 347.2,139.9C347.9,139.4 349.7,116.9 350.1,113.7" stroke="#5a9c3a"/>
<path d="M137.4,218.7C137.8,221.6 139.6,244.5 140.4,241.7C141.1,238.9 142.6,197.9 143.3,196.5C144.1,195.1 145.6,232.6 146.3,230.4C147.0,228.3 148.5,178.5 149.2,179.3C150.0,180.1 151.5,233.3 152.2,236.9C152.9,240.4 154.4,209.1 155.2,207.4C155.9,205.8 157.4,224.2 158.1,223.8C158.8,223.4 160.3,202.6 161.1,204.0C161.8,205.4 163.3,234.7 164.0,235.1C164.8,235.4 166.2,215.5 167.0,206.9C167.7,198.3 169.2,164.6 169.9,166.4C170.7,168.1 172.1,218.6 172.9,220.6C173.6,222.7 175.1,186.4 175.8,182.7C176.6,179.1 178.0,185.6 178.8,191.4C179.5,197.2 181.0,227.9 181.7,229.2C182.5,230.6 184.0,205.7 184.7,202.2C185.4,198.6 186.9,202.2 187.6,200.7C188.4,199.2 189.9,191.7 190.6,190.2C191.3,188.7 192.8,188.1 193.6,188.6C194.3,189.2 195.8,193.3 196.5,194.6C197.2,195.9 198.7,201.9 199.5,199.1C200.2,196.3 201.7,175.3 202.4,172.4C203.2,169.5 204.6,167.9 205.4,175.9C206.1,183.8 207.6,237.6 208.3,236.0C209.1,234.4 210.5,170.0 211.3,163.1C212.0,156.2 213.5,180.2 214.2,180.8C215.0,181.4 216.4,165.1 217.2,167.8C217.9,170.5 219.4,204.8 220.1,202.6C220.9,200.3 222.4,151.4 223.1,149.7C223.8,148.0 225.3,183.8 226.0,189.2C226.8,194.6 228.3,195.5 229.0,193.1C229.7,190.7 231.2,173.2 232.0,170.1C232.7,167.0 234.2,165.8 234.9,168.1C235.6,170.4 237.1,190.3 237.9,188.8C238.6,187.3 240.1,161.5 240.8,155.8C241.6,150.2 243.0,136.6 243.8,143.6C244.5,150.7 246.0,209.9 246.7,212.0C247.5,214.1 248.9,167.0 249.7,160.7C250.4,154.3 251.9,159.0 252.6,161.3C253.4,163.6 254.8,180.7 255.6,179.2C256.3,177.8 257.8,145.1 258.5,150.1C259.3,155.1 260.8,219.7 261.5,219.2C262.2,218.7 263.7,155.8 264.4,146.4C265.2,137.0 266.7,135.4 267.4,143.8C268.1,152.1 269.6,210.0 270.4,213.3C271.1,216.5 272.6,177.8 273.3,169.8C274.1,161.8 275.5,153.9 276.3,149.2C277.0,144.6 278.5,131.5 279.2,132.8C280.0,134.2 281.4,153.2 282.2,160.0C282.9,166.8 284.4,186.0 285.1,187.2C285.9,188.3 287.3,177.4 288.1,169.5C288.8,161.7 290.3,123.8 291.0,124.4C291.8,125.0 293.3,171.7 294.0,174.6C294.7,177.4 296.2,149.4 296.9,147.2C297.7,145.0 299.2,157.6 299.9,156.9C300.6,156.2 302.1,144.4 302.9,141.7C303.6,139.0 305.1,132.1 305.8,135.3C306.5,138.4 308.0,164.2 308.8,166.8C309.5,169.5 311.0,159.2 311.7,156.4C312.5,153.6 313.9,145.8 314.7,144.3C315.4,142.8 316.9,147.2 317.6,144.2C318.4,141.2 319.8,118.4 320.6,120.4C321.3,122.4 322.8,161.0 323.5,160.0C324.3,159.0 325.7,113.2 326.5,112.2C327.2,111.2 328.7,149.8 329.4,151.9C330.2,154.0 331.7,129.9 332.4,129.1C333.1,128.3 334.6,147.3 335.3,145.8C336.1,144.3 337.6,115.2 338.3,117.0C339.0,118.9 340.5,158.8 341.3,160.8C342.0,162.8 343.5,135.0 344.2,133.2C344.9,131.5 346.4,150.1 347.2,147.1C347.9,144.0 349.7,113.7 350.1,109.0" stroke="#c07850"/>
<path d="M146.3,253.7C146.7,247.5 148.5,206.2 149.2,204.5C150.0,202.8 151.5,243.2 152.2,240.1C152.9,237.0 154.4,182.3 155.2,179.6C155.9,177.0 157.4,213.5 158.1,218.9C158.8,224.2 160.3,221.9 161.1,222.6C161.8,223.3 163.3,226.9 164.0,224.4C164.8,221.9 166.2,209.2 167.0,202.8C167.7,196.5 169.2,171.3 169.9,173.5C170.7,175.6 172.1,219.6 172.9,219.8C173.6,219.9 175.1,172.1 175.8,174.8C176.6,177.5 178.0,236.6 178.8,241.3C179.5,246.0 181.0,219.5 181.7,212.4C182.5,205.2 184.0,182.7 184.7,184.3C185.4,185.8 186.9,224.0 187.6,225.1C188.4,226.1 189.9,201.5 190.6,192.8C191.3,184.1 192.8,150.0 193.6,155.1C194.3,160.2 195.8,230.8 196.5,233.4C197.2,236.1 198.7,179.8 199.5,176.1C200.2,172.5 201.7,201.6 202.4,204.4C203.2,207.2 204.6,198.5 205.4,198.6C206.1,198.7 207.6,208.6 208.3,205.5C209.1,202.4 210.5,172.7 211.3,173.8C212.0,174.8 213.5,212.9 214.2,214.0C215.0,215.1 216.4,187.5 217.2,182.5C217.9,177.6 219.4,174.3 220.1,174.3C220.9,174.3 222.4,180.5 223.1,182.6C223.8,184.6 225.3,193.7 226.0,190.8C226.8,187.8 228.3,157.4 229.0,159.1C229.7,160.8 231.2,201.2 232.0,204.2C232.7,207.2 234.2,184.9 234.9,183.0C235.6,181.1 237.1,192.2 237.9,188.8C238.6,185.3 240.1,155.5 240.8,155.5C241.6,155.5 243.0,185.6 243.8,188.8C244.5,191.9 246.0,185.8 246.7,180.9C247.5,176.0 248.9,147.6 249.7,149.6C250.4,151.5 251.9,194.5 252.6,196.8C253.4,199.1 254.8,171.4 255.6,167.9C256.3,164.3 257.8,166.4 258.5,168.5C259.3,170.6 260.8,181.9 261.5,184.6C262.2,187.2 263.7,188.0 264.4,189.4C265.2,190.8 266.7,194.2 267.4,195.6C268.1,196.9 269.6,203.3 270.4,200.2C271.1,197.1 272.6,175.5 273.3,170.7C274.1,165.9 275.5,161.6 276.3,161.8C277.0,161.9 278.5,169.2 279.2,172.0C280.0,174.8 281.4,187.1 282.2,184.2C282.9,181.3 284.4,151.7 285.1,148.8C285.9,145.9 287.3,163.0 288.1,160.9C288.8,158.8 290.3,128.6 291.0,132.2C291.8,135.8 293.3,192.0 294.0,189.8C294.7,187.5 296.2,115.4 296.9,114.0C297.7,112.6 299.2,175.1 299.9,178.2C300.6,181.2 302.1,141.7 302.9,138.7C303.6,135.6 305.1,149.6 305.8,153.5C306.5,157.3 308.0,169.7 308.8,169.6C309.5,169.5 311.0,154.4 311.7,152.8C312.5,151.2 313.9,158.5 314.7,156.5C315.4,154.4 316.9,139.2 317.6,136.6C318.4,133.9 319.8,132.3 320.6,135.4C321.3,138.4 322.8,160.7 323.5,160.9C324.3,161.0 325.7,139.7 326.5,136.4C327.2,133.0 328.7,132.1 329.4,133.7C330.2,135.4 331.7,149.2 332.4,149.7C333.1,150.1 334.6,140.0 335.3,137.2C336.1,134.4 337.6,124.6 338.3,127.2C339.0,129.9 340.5,160.9 341.3,158.6C342.0,156.4 343.5,108.9 344.2,109.4C344.9,110.0 346.8,156.3 347.2,163.0" stroke="#e8d872"/>
<path d="M161.1,232.6C161.4,228.1 163.3,202.0 164.0,196.9C164.8,191.8 166.2,190.5 167.0,191.7C167.7,192.9 169.2,204.5 169.9,206.4C170.7,208.3 172.1,202.1 172.9,206.9C173.6,211.7 175.1,245.3 175.8,244.8C176.6,244.4 178.0,208.1 178.8,203.4C179.5,198.8 181.0,207.5 181.7,207.6C182.5,207.7 184.0,204.1 184.7,204.3C185.4,204.4 186.9,209.5 187.6,208.8C188.4,208.2 189.9,200.6 190.6,199.1C191.3,197.5 192.8,199.2 193.6,196.5C194.3,193.8 195.8,175.0 196.5,177.5C197.2,179.9 198.7,209.9 199.5,216.3C200.2,222.7 201.7,234.5 202.4,228.8C203.2,223.1 204.6,176.6 205.4,170.8C206.1,164.9 207.6,173.6 208.3,181.7C209.1,189.8 210.5,235.7 211.3,235.6C212.0,235.5 213.5,185.9 214.2,180.9C215.0,176.0 216.4,199.6 217.2,195.7C217.9,191.8 219.4,150.8 220.1,149.8C220.9,148.7 222.4,179.1 223.1,187.2C223.8,195.3 225.3,216.5 226.0,214.5C226.8,212.5 228.3,175.0 229.0,171.1C229.7,167.2 231.2,180.9 232.0,183.0C232.7,185.1 234.2,185.3 234.9,187.7C235.6,190.1 237.1,202.8 237.9,202.5C238.6,202.1 240.1,190.1 240.8,185.1C241.6,180.1 243.0,161.6 243.8,162.6C244.5,163.7 246.0,194.6 246.7,193.4C247.5,192.3 248.9,152.9 249.7,153.2C250.4,153.6 251.9,192.7 252.6,196.5C253.4,200.3 254.8,188.0 255.6,183.3C256.3,178.7 257.8,159.5 258.5,159.2C259.3,159.0 260.8,174.8 261.5,181.3C262.2,187.9 263.7,215.2 264.4,211.6C265.2,208.0 266.7,154.3 267.4,152.6C268.1,150.8 269.6,193.0 270.4,197.9C271.1,202.8 272.6,197.6 273.3,191.5C274.1,185.5 275.5,152.7 276.3,149.3C277.0,146.0 278.5,159.7 279.2,164.4C280.0,169.2 281.4,189.3 282.2,187.2C282.9,185.1 284.4,152.5 285.1,147.4C285.9,142.3 287.3,143.0 288.1,146.4C288.8,149.7 290.3,172.6 291.0,174.2C291.8,175.9 293.3,159.3 294.0,159.6C294.7,159.9 296.2,176.2 296.9,176.8C297.7,177.5 299.2,167.7 299.9,165.0C300.6,162.4 302.1,153.2 302.9,155.5C303.6,157.8 305.1,177.5 305.8,183.6C306.5,189.8 308.0,208.5 308.8,204.5C309.5,200.6 311.0,158.4 311.7,152.0C312.5,145.6 313.9,152.3 314.7,153.0C315.4,153.8 316.9,155.7 317.6,157.7C318.4,159.7 319.8,165.3 320.6,169.0C321.3,172.8 322.8,193.5 323.5,187.8C324.3,182.0 325.7,125.9 326.5,122.8C327.2,119.7 328.7,160.9 329.4,163.0C330.2,165.1 331.7,142.3 332.4,139.6C333.1,136.8 334.6,140.7 335.3,141.1C336.1,141.6 337.6,142.5 338.3,143.0C339.0,143.5 340.5,144.5 341.3,145.0C342.0,145.6 343.5,146.9 344.2,147.2C344.9,147.5 346.4,151.5 347.2,147.4C347.9,143.4 349.7,119.0 350.1,115.0" stroke="#a8b840"/>
<path d="M175.8,231.3C176.2,225.8 178.0,190.0 178.8,186.9C179.5,183.9 181.0,205.1 181.7,207.2C182.5,209.3 184.0,205.8 184.7,203.9C185.4,202.1 186.9,192.1 187.6,192.8C188.4,193.5 189.9,210.3 190.6,209.7C191.3,209.1 192.8,192.2 193.6,188.2C194.3,184.1 195.8,174.2 196.5,177.2C197.2,180.1 198.7,203.6 199.5,212.0C200.2,220.5 201.7,252.0 202.4,245.1C203.2,238.2 204.6,164.9 205.4,156.8C206.1,148.8 207.6,175.3 208.3,180.9C209.1,186.4 210.5,197.8 211.3,201.2C212.0,204.6 213.5,211.2 214.2,208.1C215.0,205.0 216.4,182.0 217.2,176.7C217.9,171.4 219.4,167.5 220.1,165.7C220.9,163.8 222.4,160.8 223.1,162.2C223.8,163.5 225.3,169.4 226.0,176.5C226.8,183.5 228.3,221.8 229.0,218.7C229.7,215.5 231.2,154.4 232.0,151.2C232.7,148.1 234.2,188.3 234.9,193.6C235.6,198.9 237.1,196.3 237.9,193.3C238.6,190.3 240.1,172.9 240.8,169.7C241.6,166.6 243.0,164.9 243.8,168.1C244.5,171.2 246.0,192.5 246.7,195.0C247.5,197.5 248.9,194.7 249.7,188.2C250.4,181.7 251.9,145.6 252.6,142.8C253.4,140.0 254.8,165.1 255.6,165.8C256.3,166.5 257.8,145.7 258.5,148.6C259.3,151.6 260.8,186.3 261.5,189.2C262.2,192.1 263.7,173.0 264.4,171.8C265.2,170.6 266.7,177.4 267.4,179.8C268.1,182.2 269.6,192.8 270.4,191.0C271.1,189.1 272.6,171.7 273.3,165.2C274.1,158.6 275.5,134.6 276.3,138.6C277.0,142.7 278.5,193.1 279.2,197.6C280.0,202.1 281.4,182.2 282.2,174.8C282.9,167.3 284.4,139.4 285.1,138.0C285.9,136.6 287.3,163.0 288.1,163.8C288.8,164.6 290.3,148.4 291.0,144.3C291.8,140.2 293.3,128.1 294.0,130.6C294.7,133.2 296.2,161.9 296.9,164.7C297.7,167.4 299.2,154.6 299.9,152.7C300.6,150.7 302.1,145.2 302.9,149.0C303.6,152.9 305.1,183.8 305.8,183.5C306.5,183.3 308.0,148.8 308.8,147.2C309.5,145.7 311.0,170.7 311.7,171.1C312.5,171.4 313.9,153.3 314.7,150.1C315.4,147.0 316.9,146.2 317.6,145.9C318.4,145.6 319.8,147.0 320.6,147.6C321.3,148.2 322.8,149.4 323.5,151.0C324.3,152.6 325.7,163.4 326.5,160.7C327.2,158.0 328.7,142.2 329.4,129.5C330.2,116.8 331.7,59.8 332.4,59.0C333.1,58.2 334.6,114.0 335.3,123.5C336.1,132.9 337.6,130.7 338.3,134.4C339.0,138.2 340.5,155.0 341.3,153.7C342.0,152.3 343.5,119.2 344.2,123.6C344.9,128.0 346.4,191.0 347.2,189.1C347.9,187.3 349.7,119.1 350.1,109.1" stroke="#d0aa44"/>
<path d="M190.6,222.9C191.0,220.0 192.8,202.0 193.6,199.4C194.3,196.9 195.8,201.4 196.5,202.5C197.2,203.6 198.7,207.2 199.5,208.3C200.2,209.4 201.7,216.1 202.4,211.5C203.2,206.9 204.6,170.5 205.4,171.5C206.1,172.4 207.6,217.3 208.3,219.0C209.1,220.7 210.5,191.7 211.3,184.9C212.0,178.0 213.5,163.4 214.2,164.0C215.0,164.5 216.4,188.1 217.2,189.3C217.9,190.5 219.4,173.6 220.1,173.4C220.9,173.1 222.4,188.8 223.1,187.2C223.8,185.6 225.3,161.0 226.0,160.6C226.8,160.2 228.3,182.1 229.0,183.9C229.7,185.8 231.2,174.8 232.0,175.4C232.7,176.0 234.2,190.9 234.9,188.5C235.6,186.1 237.1,153.6 237.9,156.2C238.6,158.8 240.1,207.0 240.8,209.1C241.6,211.1 243.0,181.2 243.8,172.8C244.5,164.4 246.0,142.0 246.7,142.0C247.5,142.1 248.9,168.7 249.7,173.3C250.4,177.9 251.9,175.1 252.6,179.2C253.4,183.2 254.8,207.9 255.6,205.8C256.3,203.6 257.8,166.7 258.5,162.0C259.3,157.4 260.8,167.4 261.5,168.6C262.2,169.8 263.7,170.8 264.4,171.2C265.2,171.7 266.7,170.9 267.4,172.3C268.1,173.6 269.6,180.6 270.4,182.0C271.1,183.4 272.6,183.8 273.3,183.5C274.1,183.3 275.5,182.6 276.3,180.3C277.0,177.9 278.5,168.6 279.2,164.6C280.0,160.6 281.4,145.3 282.2,148.4C282.9,151.4 284.4,190.1 285.1,188.8C285.9,187.5 287.3,136.6 288.1,137.8C288.8,139.0 290.3,198.7 291.0,198.4C291.8,198.1 293.3,145.3 294.0,135.7C294.7,126.1 296.2,115.9 296.9,121.7C297.7,127.4 299.2,175.0 299.9,181.5C300.6,188.1 302.1,174.2 302.9,173.9C303.6,173.6 305.1,183.8 305.8,179.2C306.5,174.6 308.0,137.4 308.8,137.0C309.5,136.5 311.0,172.6 311.7,175.4C312.5,178.1 313.9,164.4 314.7,158.9C315.4,153.5 316.9,132.5 317.6,131.7C318.4,130.8 319.8,152.3 320.6,151.9C321.3,151.5 322.8,129.2 323.5,128.4C324.3,127.6 325.7,143.3 326.5,145.3C327.2,147.4 328.7,145.0 329.4,144.7C330.2,144.4 331.7,144.3 332.4,143.0C333.1,141.7 334.6,137.4 335.3,134.5C336.1,131.6 337.6,118.0 338.3,119.9C339.0,121.7 340.5,143.2 341.3,149.3C342.0,155.3 343.5,171.8 344.2,168.1C344.9,164.4 346.4,122.4 347.2,119.7C347.9,117.0 349.7,143.1 350.1,146.4" stroke="#98cc5a"/>
<path d="M205.4,201.7C205.7,199.9 207.6,186.1 208.3,186.9C209.1,187.7 210.5,206.3 211.3,208.2C212.0,210.0 213.5,208.7 214.2,201.7C215.0,194.8 216.4,151.6 217.2,152.4C217.9,153.3 219.4,209.6 220.1,208.7C220.9,207.9 222.4,144.9 223.1,145.6C223.8,146.3 225.3,210.9 226.0,214.2C226.8,217.5 228.3,175.4 229.0,172.0C229.7,168.7 231.2,187.8 232.0,187.2C232.7,186.7 234.2,166.2 234.9,167.4C235.6,168.6 237.1,196.8 237.9,196.9C238.6,197.0 240.1,171.6 240.8,168.4C241.6,165.2 243.0,170.7 243.8,171.5C244.5,172.4 246.0,177.0 246.7,175.2C247.5,173.5 248.9,155.6 249.7,157.4C250.4,159.1 251.9,186.9 252.6,189.4C253.4,192.0 254.8,181.8 255.6,177.7C256.3,173.5 257.8,155.0 258.5,156.3C259.3,157.6 260.8,187.0 261.5,188.1C262.2,189.2 263.7,165.3 264.4,165.0C265.2,164.6 266.7,183.5 267.4,185.2C268.1,186.9 269.6,182.7 270.4,178.7C271.1,174.6 272.6,154.7 273.3,152.7C274.1,150.7 275.5,158.6 276.3,162.7C277.0,166.7 278.5,188.9 279.2,185.2C280.0,181.4 281.4,134.1 282.2,132.7C282.9,131.3 284.4,172.9 285.1,174.1C285.9,175.3 287.3,140.9 288.1,142.2C288.8,143.5 290.3,187.1 291.0,184.6C291.8,182.1 293.3,122.6 294.0,122.4C294.7,122.2 296.2,178.8 296.9,183.2C297.7,187.6 299.2,159.3 299.9,157.9C300.6,156.5 302.1,171.0 302.9,171.9C303.6,172.8 305.1,166.0 305.8,165.0C306.5,164.1 308.0,166.6 308.8,164.6C309.5,162.6 311.0,149.2 311.7,149.3C312.5,149.4 313.9,166.4 314.7,165.4C315.4,164.4 316.9,141.1 317.6,141.3C318.4,141.5 319.8,168.6 320.6,167.3C321.3,166.0 322.8,134.9 323.5,131.0C324.3,127.1 325.7,136.1 326.5,136.2C327.2,136.3 328.7,128.7 329.4,131.6C330.2,134.6 331.7,160.6 332.4,159.9C333.1,159.1 334.6,125.6 335.3,125.5C336.1,125.4 337.6,160.2 338.3,159.1C339.0,157.9 340.5,119.5 341.3,116.2C342.0,112.9 343.5,131.2 344.2,132.7C344.9,134.1 346.4,127.6 347.2,127.6C347.9,127.6 349.7,131.8 350.1,132.5" stroke="#cc9080"/>
<path d="M214.2,201.3C214.6,199.9 216.4,192.1 217.2,190.1C217.9,188.1 219.4,188.8 220.1,185.5C220.9,182.1 222.4,163.3 223.1,163.4C223.8,163.4 225.3,187.1 226.0,185.8C226.8,184.6 228.3,152.3 229.0,153.4C229.7,154.6 231.2,190.4 232.0,195.1C232.7,199.8 234.2,193.7 234.9,190.9C235.6,188.0 237.1,174.7 237.9,172.2C238.6,169.8 240.1,171.9 240.8,171.1C241.6,170.4 243.0,162.6 243.8,166.3C244.5,170.1 246.0,201.7 246.7,201.1C247.5,200.6 248.9,164.6 249.7,162.1C250.4,159.6 251.9,180.1 252.6,181.4C253.4,182.6 254.8,174.3 255.6,172.1C256.3,169.8 257.8,163.1 258.5,163.2C259.3,163.2 260.8,172.9 261.5,172.5C262.2,172.1 263.7,160.6 264.4,159.7C265.2,158.8 266.7,160.5 267.4,165.0C268.1,169.5 269.6,197.3 270.4,195.7C271.1,194.1 272.6,150.3 273.3,152.1C274.1,153.9 275.5,208.4 276.3,209.9C277.0,211.5 278.5,175.3 279.2,164.7C280.0,154.2 281.4,124.4 282.2,125.4C282.9,126.4 284.4,166.6 285.1,172.6C285.9,178.6 287.3,177.4 288.1,173.6C288.8,169.9 290.3,144.9 291.0,142.7C291.8,140.6 293.3,154.2 294.0,156.6C294.7,159.0 296.2,156.9 296.9,161.7C297.7,166.5 299.2,197.4 299.9,195.0C300.6,192.6 302.1,144.1 302.9,142.8C303.6,141.5 305.1,185.4 305.8,184.8C306.5,184.1 308.0,140.3 308.8,137.5C309.5,134.7 311.0,168.8 311.7,162.2C312.5,155.7 313.9,86.2 314.7,85.0C315.4,83.8 316.9,148.3 317.6,153.0C318.4,157.7 319.8,123.1 320.6,122.7C321.3,122.3 322.8,147.3 323.5,150.0C324.3,152.7 325.7,147.2 326.5,144.4C327.2,141.6 328.7,131.5 329.4,127.8C330.2,124.0 331.7,109.1 332.4,114.6C333.1,120.1 334.6,171.4 335.3,172.0C336.1,172.7 337.6,122.6 338.3,119.6C339.0,116.6 340.5,146.0 341.3,148.0C342.0,150.1 343.5,133.2 344.2,136.2C344.9,139.1 346.8,167.0 347.2,171.4" stroke="#a8d878"/>
<path d="M220.1,158.0C220.5,159.8 222.4,166.5 223.1,172.7C223.8,178.9 225.3,210.0 226.0,207.6C226.8,205.1 228.3,161.1 229.0,153.2C229.7,145.3 231.2,135.7 232.0,144.1C232.7,152.5 234.2,217.7 234.9,220.4C235.6,223.2 237.1,170.7 237.9,166.0C238.6,161.4 240.1,185.3 240.8,183.3C241.6,181.3 243.0,153.1 243.8,150.0C244.5,146.9 246.0,154.0 246.7,158.6C247.5,163.3 248.9,186.0 249.7,187.4C250.4,188.8 251.9,176.2 252.6,169.8C253.4,163.3 254.8,135.6 255.6,135.8C256.3,135.9 257.8,170.0 258.5,170.8C259.3,171.7 260.8,138.5 261.5,142.3C262.2,146.2 263.7,197.2 264.4,201.7C265.2,206.2 266.7,181.6 267.4,178.2C268.1,174.7 269.6,178.8 270.4,174.1C271.1,169.3 272.6,138.9 273.3,140.1C274.1,141.4 275.5,181.5 276.3,184.0C277.0,186.6 278.5,161.9 279.2,160.7C280.0,159.5 281.4,178.7 282.2,174.6C282.9,170.5 284.4,128.7 285.1,127.8C285.9,126.9 287.3,167.3 288.1,167.2C288.8,167.1 290.3,128.0 291.0,127.1C291.8,126.3 293.3,154.9 294.0,160.2C294.7,165.5 296.2,174.7 296.9,169.8C297.7,164.9 299.2,121.6 299.9,121.0C300.6,120.3 302.1,162.9 302.9,164.9C303.6,167.0 305.1,134.7 305.8,137.4C306.5,140.1 308.0,180.6 308.8,186.5C309.5,192.4 311.0,193.0 311.7,184.7C312.5,176.5 313.9,129.4 314.7,120.3C315.4,111.2 316.9,109.8 317.6,112.0C318.4,114.2 319.8,130.9 320.6,138.1C321.3,145.4 322.8,172.3 323.5,170.0C324.3,167.7 325.7,124.4 326.5,119.8C327.2,115.3 328.7,133.1 329.4,133.5C330.2,133.9 331.7,125.2 332.4,123.0C333.1,120.9 334.6,113.3 335.3,116.1C336.1,118.9 337.6,145.4 338.3,145.4C339.0,145.3 340.5,113.9 341.3,115.7C342.0,117.5 343.5,159.9 344.2,159.8C344.9,159.7 346.4,120.1 347.2,114.9C347.9,109.8 349.7,118.2 350.1,118.7" stroke="#74b648"/>
</g>
<line x1="0" y1="255.4" x2="360" y2="255.4" stroke="#222" stroke-width="1.7" stroke-dasharray="3.3 3.155" stroke-dashoffset="2.71"/>
<polyline points="0,253.3 5,256.1 10,258.9 15,261.7 20,261.1 25,259.4 28,256.7 31,252.8 35,256.7 38,257.8 40,255.6 43,250 48,248.3 52,245 56,247.8 60,251.7 64,255 68,255 73,252.2 77,248.9 80,246.4 84,239.4 87,235.6 90,238.3 93,243.3 96,247.2 100,242.8 105,237.8 110,239 114,241.1 118,239.1 123,236.1 128,233.9 133,230.6 137,230 142,231.5 144,230.6 148,225 151,220 153,218.3 157,217.8 160,215.6 163,211.7 166,207.8 170,207.5 173,211.1 176,212.8 180,210 183,205.6 186,203.3 190,203.9 193,202.2 197,198.3 200,200 204,201.7 208,200 211,195.6 214,189.4 217,185 222,183 227,183.3 231,186.7 233,188.3 237,185.6 240,181.7 245,180.6 250,178.9 253,177.8 258,175.6 262,177.5 265,180.5 268,182.5 271,182 274,176.5 277,172.5 281.7,169 284,166.5 286,162.5 288.3,158.5 291,157 295,159.4 299,161.1 302,163.9 305,167.2 307,170.6 310,166.7 313,160 316,152.8 320,149.5 325,146.5 330,143 333,143.5 336,145.5 339,146.7 342,145 345,142 348,137 349.5,134.5" fill="none" stroke="#000" stroke-width="3.8" stroke-linejoin="round" stroke-linecap="round"/>
<polyline points="317.5,151.7 323.3,149.6 328.3,146.7 332.5,142.9 335.8,142.5 340,139.6 345,135 349,132 356.7,128.3" fill="none" stroke="#d42a1e" stroke-width="3.8" stroke-linejoin="round" stroke-linecap="round"/>
<rect x="0" y="37.5" width="360" height="1.8" fill="#000"/>
<rect x="0" y="316.5" width="360" height="1.7" fill="#000"/>
<rect x="42.3" y="39" width="1.2" height="3" fill="#000"/><rect x="42.3" y="313.3" width="1.2" height="3" fill="#000"/><rect x="101.4" y="39" width="1.2" height="3" fill="#000"/><rect x="101.4" y="313.3" width="1.2" height="3" fill="#000"/><rect x="160.5" y="39" width="1.2" height="3" fill="#000"/><rect x="160.5" y="313.3" width="1.2" height="3" fill="#000"/><rect x="219.5" y="39" width="1.2" height="3" fill="#000"/><rect x="219.5" y="313.3" width="1.2" height="3" fill="#000"/><rect x="278.6" y="39" width="1.2" height="3" fill="#000"/><rect x="278.6" y="313.3" width="1.2" height="3" fill="#000"/><rect x="337.7" y="39" width="1.2" height="3" fill="#000"/><rect x="337.7" y="313.3" width="1.2" height="3" fill="#000"/>
<rect x="357.5" y="285.6" width="2.5" height="1.4" fill="#000"/><rect x="357.5" y="254.6" width="2.5" height="1.4" fill="#000"/><rect x="357.5" y="223.7" width="2.5" height="1.4" fill="#000"/><rect x="357.5" y="192.7" width="2.5" height="1.4" fill="#000"/><rect x="357.5" y="161.8" width="2.5" height="1.4" fill="#000"/><rect x="357.5" y="130.8" width="2.5" height="1.4" fill="#000"/><rect x="357.5" y="99.9" width="2.5" height="1.4" fill="#000"/><rect x="357.5" y="68.9" width="2.5" height="1.4" fill="#000"/>
<text x="-0.13" y="71.7" font-size="27.4" textLength="84.37" lengthAdjust="spacingAndGlyphs" fill="#000">Recent</text><text x="89.16" y="71.7" font-size="27.4" textLength="41.75" lengthAdjust="spacingAndGlyphs" fill="#000">Sea</text><text x="137.82" y="71.7" font-size="27.4" textLength="62.09" lengthAdjust="spacingAndGlyphs" fill="#000">Level</text><text x="207.48" y="71.7" font-size="27.4" textLength="48.09" lengthAdjust="spacingAndGlyphs" fill="#000">Rise</text>
<text x="13.5" y="95.5" font-size="15" textLength="206" lengthAdjust="spacingAndGlyphs" fill="#111">23 Annual Tide Gauge Records</text>
<rect x="22.5" y="109" width="12.5" height="3" fill="#000"/>
<rect x="22.5" y="127.3" width="12.5" height="3" fill="#d42a1e"/>
<text x="43.4" y="115.8" font-size="14.7" textLength="130.2" lengthAdjust="spacingAndGlyphs" fill="#111">Three Year Average</text>
<text x="43.1" y="133.9" font-size="14.7" textLength="119.8" lengthAdjust="spacingAndGlyphs" fill="#111">Satellite Altimetry</text>
<text x="159.6" y="303.3" font-size="11.1" font-weight="700" textLength="180.2" lengthAdjust="spacingAndGlyphs" fill="#000">Robert Rhode/Global Warming Art</text>
<text x="44.2" y="335.3" font-size="17" text-anchor="middle" fill="#000">1900</text><text x="103.3" y="335.3" font-size="17" text-anchor="middle" fill="#000">1920</text><text x="162.4" y="335.3" font-size="17" text-anchor="middle" fill="#000">1940</text><text x="221.4" y="335.3" font-size="17" text-anchor="middle" fill="#000">1960</text><text x="280.5" y="335.3" font-size="17" text-anchor="middle" fill="#000">1980</text><text x="339.6" y="335.3" font-size="17" text-anchor="middle" fill="#000">2000</text>
</svg>
</body></html>
